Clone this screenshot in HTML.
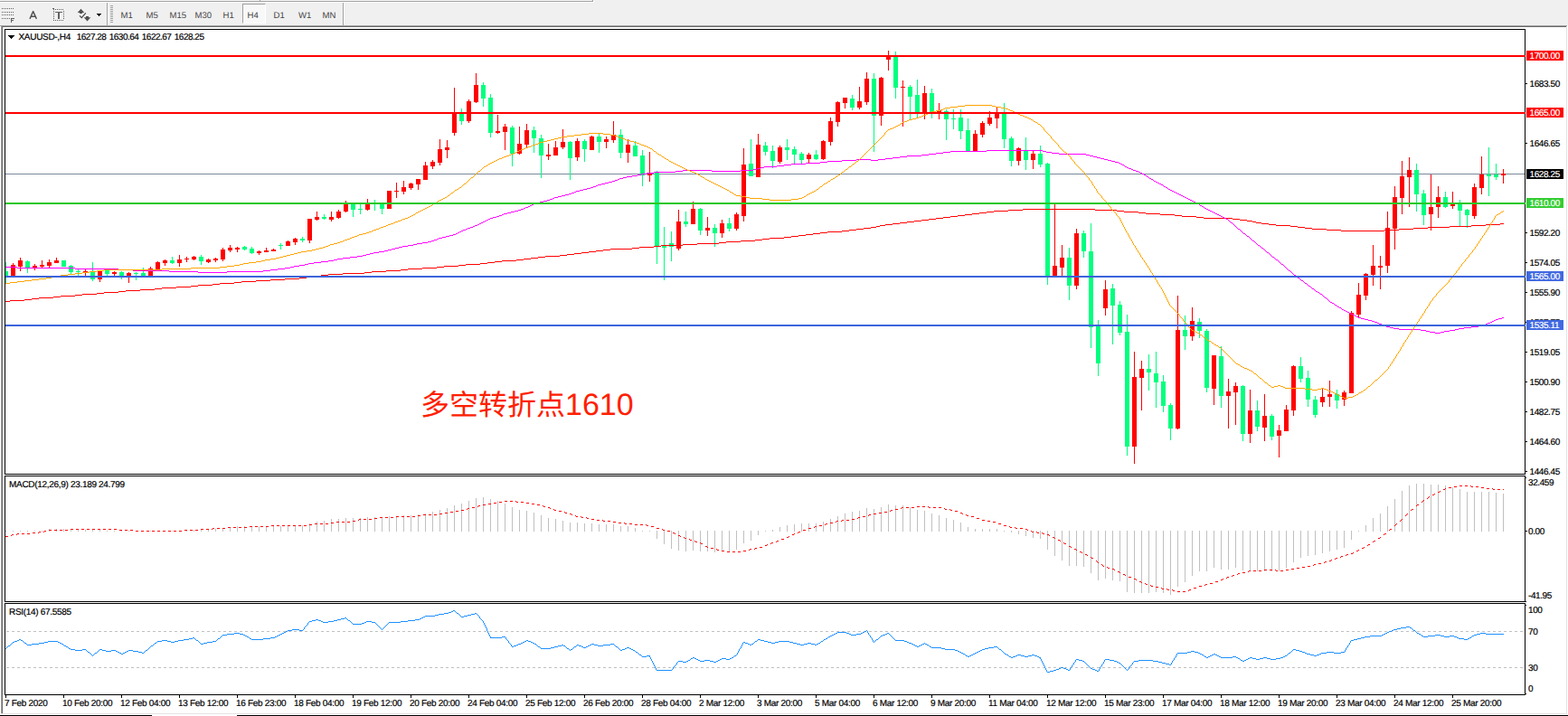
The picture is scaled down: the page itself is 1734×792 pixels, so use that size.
<!DOCTYPE html>
<html><head><meta charset="utf-8"><title>XAUUSD-,H4</title>
<style>
html,body{margin:0;padding:0}
body{width:1734px;height:792px;background:#f0f0f0;position:relative;overflow:hidden;font-family:"Liberation Sans",sans-serif;font-size:10px;letter-spacing:-0.31px;color:#000;text-rendering:geometricPrecision;-webkit-text-stroke:0.2px #000}
div{position:absolute;box-sizing:border-box}
.t{white-space:nowrap;line-height:11px;height:11px}
.pane{border:1px solid #000;background:#fff}
.lb{-webkit-text-stroke:0.2px #fff;left:1688px;width:41px;height:11px;color:#fff;padding-left:3.500px;line-height:13px;white-space:nowrap;letter-spacing:-0.41px}
.ax{left:1691.500px;letter-spacing:-0.41px}
.ax2{left:1690px;letter-spacing:-0.41px}
.tb{-webkit-text-stroke:0;color:#454545;opacity:0.99;top:12px;font-size:9.6px;letter-spacing:0;line-height:11px;height:11px;white-space:nowrap}
svg{position:absolute;left:0;top:0}
</style></head><body>

<div style="left:0;top:0;width:655px;height:1px;background:#f8f8f8"></div><div style="left:655px;top:0;width:1px;height:2px;background:#a0a0a0"></div><div style="left:656px;top:0;width:1px;height:3px;background:#fff"></div>
<div style="left:0;top:1px;width:656px;height:1px;background:#a0a0a0"></div>
<div style="left:0;top:2px;width:657px;height:1px;background:#fff"></div>
<div style="left:287px;top:0;width:1px;height:1px;background:#a0a0a0"></div><div style="left:288px;top:0;width:1px;height:1px;background:#fff"></div>
<div style="left:118px;top:3px;width:1px;height:25px;background:#a0a0a0"></div><div style="left:119px;top:3px;width:1px;height:25px;background:#fff"></div>
<div style="left:379px;top:3px;width:1px;height:25px;background:#a0a0a0"></div><div style="left:380px;top:3px;width:1px;height:25px;background:#fff"></div>
<div style="left:122px;top:6px;width:3px;height:20px;background:repeating-linear-gradient(to bottom,#a0a0a0 0,#a0a0a0 1px,transparent 1px,transparent 2px)"></div>
<div style="left:268px;top:4px;width:26px;height:22px;background:#f8f8f8;border-top:1px solid #a0a0a0;border-left:1px solid #a0a0a0;border-right:1px solid #fff;border-bottom:1px solid #fff"></div>
<div class="tb" style="left:133.5px">M1</div>
<div class="tb" style="left:161.5px">M5</div>
<div class="tb" style="left:187.5px">M15</div>
<div class="tb" style="left:215.5px">M30</div>
<div class="tb" style="left:246.5px">H1</div>
<div class="tb" style="left:273.5px">H4</div>
<div class="tb" style="left:302.5px">D1</div>
<div class="tb" style="left:330px">W1</div>
<div class="tb" style="left:356.5px">MN</div>
<svg width="120" height="30" viewBox="0 0 120 30" shape-rendering="crispEdges">
<g fill="#606060">
<path d="M2 9h1v1h-1zM4 9h1v1h-1zM6 9h1v1h-1zM8 9h1v1h-1zM10 9h1v1h-1zM12 9h1v1h-1zM14 9h1v1h-1zM2 13h1v1h-1zM4 13h1v1h-1zM6 13h1v1h-1zM8 13h1v1h-1zM10 13h1v1h-1zM12 13h1v1h-1zM14 13h1v1h-1zM2 16h1v1h-1zM4 16h1v1h-1zM6 16h1v1h-1zM8 16h1v1h-1zM10 16h1v1h-1zM12 16h1v1h-1zM14 16h1v1h-1zM2 20h1v1h-1zM4 20h1v1h-1zM6 20h1v1h-1zM8 20h1v1h-1zM10 20h1v1h-1z"/>
<path d="M12 20h4v1h-3v1h2v1h-2v2h-1z"/>
<path d="M59 10h1v1h-1zM61 10h1v1h-1zM63 10h1v1h-1zM65 10h1v1h-1zM67 10h1v1h-1zM69 10h1v1h-1zM59 12h1v1h-1zM59 14h1v1h-1zM59 16h1v1h-1zM59 18h1v1h-1zM59 20h1v1h-1zM59 22h1v1h-1zM61 22h1v1h-1zM63 22h1v1h-1zM65 22h1v1h-1zM67 22h1v1h-1zM69 22h1v1h-1zM70 12h1v1h-1zM70 14h1v1h-1zM70 16h1v1h-1zM70 18h1v1h-1zM70 20h1v1h-1zM58 9h2v1h-2z"/>
<path d="M61 13h8v1h-8zM64 14h2v7h-2z"/>
<path d="M107 15h5v1h-5zM108 16h3v1h-3zM109 17h1v1h-1z" fill="#000"/>
</g>
<g shape-rendering="auto" fill="#505050">
<path d="M33 20.900L36.650 12.600L40.400 20.900M34.300 18.200H39.100" fill="none" stroke="#505050" stroke-width="1.4" stroke-linejoin="round"/>
<path d="M89.500 9.700L93.300 13.900H91V15H88V13.900H85.700z"/>
<path d="M95 18H98V19.200H100.300L96.500 23.400L92.700 19.200H95z"/>
<path d="M88 17.300L90.300 19.600L94.800 14.300" fill="none" stroke="#404040" stroke-width="1.1"/>
</g>
</svg>
<div style="left:0;top:28px;width:1734px;height:1px;background:#a0a0a0"></div>
<div style="left:1px;top:29px;width:1px;height:760px;background:#a0a0a0"></div>
<div style="left:2px;top:29px;width:1730px;height:1px;background:#696969"></div>
<div style="left:2px;top:29px;width:1px;height:760px;background:#696969"></div>
<div style="left:3px;top:30px;width:1729px;height:759px;background:#fff"></div>
<div style="left:0;top:29px;width:1px;height:761px;background:#fff"></div>
<div style="left:1732px;top:29px;width:1px;height:761px;background:#e3e3e3"></div>
<div style="left:1733px;top:28px;width:1px;height:762px;background:#fff"></div>
<div style="left:1px;top:789px;width:1732px;height:1px;background:#e3e3e3"></div>
<div style="left:0;top:790px;width:1734px;height:1px;background:#fff"></div>
<div style="left:0;top:791px;width:168px;height:1px;background:#000"></div>
<div style="left:168px;top:791px;width:94px;height:1px;background:#fff"></div>
<div style="left:262px;top:791px;width:1472px;height:1px;background:#000"></div>
<div class="pane" style="left:5px;top:32px;width:1682px;height:493px"></div>
<div class="pane" style="left:5px;top:526px;width:1682px;height:140px"></div>
<div class="pane" style="left:5px;top:667px;width:1682px;height:102px"></div>
<svg width="1734" height="792" viewBox="0 0 1734 792" shape-rendering="crispEdges"><rect x="6" y="192" width="1680" height="1" fill="#7a8a9c"/><path d="M6 290h1v24h-1zM6 300h3v6h-3zM30 288h1v14h-1zM28 289h5v7h-5zM70 288h1v7h-1zM68 288h5v7h-5zM78 293h1v10h-1zM76 294h5v7h-5zM86 297h1v8h-1zM84 300h5v1h-5zM102 290h1v21h-1zM100 301h5v8h-5zM118 298h1v7h-1zM116 299h5v4h-5zM134 300h1v9h-1zM132 301h5v4h-5zM150 301h1v9h-1zM148 302h5v1h-5zM158 296h1v9h-1zM156 302h5v3h-5zM190 284h1v8h-1zM188 288h5v3h-5zM222 282h1v11h-1zM220 284h5v5h-5zM270 272h1v5h-1zM268 273h5v3h-5zM278 273h1v8h-1zM276 275h5v5h-5zM310 269h1v7h-1zM308 271h5v1h-5zM334 262h1v6h-1zM332 264h5v2h-5zM358 237h1v6h-1zM356 240h5v2h-5zM390 224h1v16h-1zM388 224h5v8h-5zM398 224h1v13h-1zM396 231h5v1h-5zM414 221h1v12h-1zM412 224h5v1h-5zM422 224h1v13h-1zM420 224h5v7h-5zM510 120h1v18h-1zM508 124h5v10h-5zM534 91h1v27h-1zM532 94h5v15h-5zM542 104h1v48h-1zM540 108h5v39h-5zM566 139h1v45h-1zM564 141h5v29h-5zM590 140h1v29h-1zM588 144h5v9h-5zM598 149h1v48h-1zM596 153h5v19h-5zM630 156h1v43h-1zM628 157h5v18h-5zM646 154h1v25h-1zM644 156h5v9h-5zM662 148h1v21h-1zM660 151h5v6h-5zM686 143h1v32h-1zM684 149h5v20h-5zM702 156h1v17h-1zM700 161h5v12h-5zM710 166h1v40h-1zM708 172h5v22h-5zM726 189h1v103h-1zM724 191h5v81h-5zM734 251h1v59h-1zM732 272h5v2h-5zM742 256h1v33h-1zM740 269h5v4h-5zM758 234h1v17h-1zM756 245h5v3h-5zM774 230h1v30h-1zM772 231h5v24h-5zM790 248h1v25h-1zM788 252h5v6h-5zM806 241h1v15h-1zM804 247h5v6h-5zM830 154h1v41h-1zM828 181h5v14h-5zM846 157h1v15h-1zM844 161h5v7h-5zM854 161h1v25h-1zM852 167h5v11h-5zM870 154h1v23h-1zM868 163h5v3h-5zM878 162h1v20h-1zM876 165h5v6h-5zM886 168h1v13h-1zM884 170h5v7h-5zM902 166h1v11h-1zM900 171h5v5h-5zM942 105h1v17h-1zM940 109h5v10h-5zM966 81h1v87h-1zM964 87h5v41h-5zM990 57h1v52h-1zM988 62h5v35h-5zM1006 94h1v38h-1zM1004 96h5v11h-5zM1014 88h1v42h-1zM1012 105h5v19h-5zM1030 98h1v33h-1zM1028 103h5v21h-5zM1046 121h1v34h-1zM1044 123h5v9h-5zM1054 121h1v22h-1zM1052 131h5v1h-5zM1062 121h1v33h-1zM1060 130h5v15h-5zM1070 131h1v36h-1zM1068 144h5v23h-5zM1110 114h1v50h-1zM1108 126h5v28h-5zM1118 151h1v33h-1zM1116 153h5v25h-5zM1134 152h1v36h-1zM1132 167h5v10h-5zM1150 161h1v24h-1zM1148 170h5v12h-5zM1158 180h1v135h-1zM1156 181h5v124h-5zM1182 274h1v58h-1zM1180 285h5v31h-5zM1198 255h1v30h-1zM1196 258h5v20h-5zM1206 247h1v138h-1zM1204 278h5v84h-5zM1214 354h1v62h-1zM1212 359h5v43h-5zM1230 314h1v67h-1zM1228 319h5v19h-5zM1238 333h1v38h-1zM1236 337h5v31h-5zM1246 348h1v156h-1zM1244 367h5v127h-5zM1270 392h1v40h-1zM1268 408h5v4h-5zM1278 389h1v62h-1zM1276 413h5v10h-5zM1286 415h1v41h-1zM1284 422h5v27h-5zM1294 446h1v41h-1zM1292 448h5v26h-5zM1310 349h1v38h-1zM1308 365h5v7h-5zM1326 352h1v22h-1zM1324 356h5v10h-5zM1334 364h1v70h-1zM1332 366h5v63h-5zM1350 383h1v68h-1zM1348 394h5v44h-5zM1374 426h1v62h-1zM1372 427h5v53h-5zM1390 443h1v34h-1zM1388 454h5v18h-5zM1406 458h1v29h-1zM1404 460h5v23h-5zM1438 395h1v28h-1zM1436 405h5v14h-5zM1446 410h1v40h-1zM1444 418h5v24h-5zM1454 438h1v24h-1zM1452 442h5v17h-5zM1478 431h1v21h-1zM1476 436h5v7h-5zM1566 181h1v53h-1zM1564 188h5v27h-5zM1574 210h1v39h-1zM1572 214h5v24h-5zM1598 212h1v18h-1zM1596 218h5v11h-5zM1614 221h1v29h-1zM1612 226h5v7h-5zM1622 231h1v21h-1zM1620 232h5v6h-5zM1646 163h1v54h-1zM1644 193h5v2h-5zM1654 181h1v18h-1zM1652 193h5v3h-5z" fill="#00ff7f"/><path d="M14 291h1v14h-1zM12 293h5v12h-5zM22 285h1v15h-1zM20 288h5v7h-5zM38 292h1v7h-1zM36 294h5v2h-5zM46 288h1v8h-1zM44 293h5v2h-5zM54 287h1v9h-1zM52 290h5v4h-5zM62 285h1v6h-1zM60 288h5v3h-5zM94 297h1v8h-1zM92 300h5v2h-5zM110 300h1v12h-1zM108 300h5v9h-5zM126 300h1v5h-1zM124 301h5v2h-5zM142 301h1v12h-1zM140 302h5v3h-5zM166 295h1v10h-1zM164 297h5v8h-5zM174 289h1v9h-1zM172 290h5v8h-5zM182 287h1v7h-1zM180 288h5v3h-5zM198 282h1v13h-1zM196 287h5v4h-5zM206 284h1v6h-1zM204 286h5v1h-5zM214 283h1v5h-1zM212 284h5v3h-5zM230 286h1v5h-1zM228 287h5v3h-5zM238 285h1v5h-1zM236 286h5v2h-5zM246 274h1v15h-1zM244 276h5v11h-5zM254 271h1v8h-1zM252 274h5v3h-5zM262 273h1v6h-1zM260 274h5v2h-5zM286 277h1v5h-1zM284 278h5v2h-5zM294 274h1v5h-1zM292 277h5v2h-5zM302 275h1v3h-1zM300 276h5v2h-5zM318 266h1v6h-1zM316 267h5v5h-5zM326 263h1v8h-1zM324 264h5v4h-5zM342 242h1v27h-1zM340 242h5v24h-5zM350 234h1v10h-1zM348 240h5v3h-5zM366 234h1v11h-1zM364 240h5v3h-5zM374 232h1v10h-1zM372 234h5v7h-5zM382 222h1v13h-1zM380 224h5v10h-5zM406 220h1v13h-1zM404 224h5v8h-5zM430 211h1v20h-1zM428 211h5v20h-5zM438 202h1v17h-1zM436 211h5v1h-5zM446 200h1v15h-1zM444 207h5v5h-5zM454 202h1v8h-1zM452 203h5v5h-5zM462 198h1v12h-1zM460 198h5v6h-5zM470 179h1v20h-1zM468 183h5v16h-5zM478 177h1v10h-1zM476 179h5v5h-5zM486 154h1v29h-1zM484 165h5v15h-5zM494 155h1v20h-1zM492 163h5v3h-5zM502 97h1v53h-1zM500 124h5v23h-5zM518 110h1v26h-1zM516 112h5v22h-5zM526 81h1v33h-1zM524 94h5v19h-5zM550 127h1v21h-1zM548 145h5v2h-5zM558 137h1v29h-1zM556 140h5v6h-5zM574 140h1v31h-1zM572 159h5v11h-5zM582 137h1v26h-1zM580 144h5v16h-5zM606 159h1v18h-1zM604 171h5v2h-5zM614 156h1v16h-1zM612 163h5v9h-5zM622 143h1v22h-1zM620 157h5v6h-5zM638 153h1v25h-1zM636 156h5v18h-5zM654 150h1v16h-1zM652 151h5v15h-5zM670 151h1v13h-1zM668 154h5v3h-5zM678 134h1v24h-1zM676 149h5v6h-5zM694 154h1v26h-1zM692 160h5v9h-5zM718 168h1v33h-1zM716 191h5v3h-5zM750 232h1v45h-1zM748 245h5v30h-5zM766 223h1v25h-1zM764 231h5v17h-5zM782 240h1v21h-1zM780 252h5v3h-5zM798 243h1v20h-1zM796 247h5v11h-5zM814 235h1v20h-1zM812 237h5v16h-5zM822 164h1v81h-1zM820 182h5v57h-5zM838 148h1v48h-1zM836 160h5v36h-5zM862 161h1v20h-1zM860 163h5v16h-5zM894 169h1v11h-1zM892 171h5v5h-5zM910 155h1v22h-1zM908 156h5v20h-5zM918 130h1v31h-1zM916 134h5v23h-5zM926 112h1v28h-1zM924 113h5v22h-5zM934 108h1v12h-1zM932 108h5v6h-5zM950 96h1v25h-1zM948 112h5v7h-5zM958 80h1v36h-1zM956 87h5v26h-5zM974 85h1v54h-1zM972 86h5v42h-5zM982 56h1v22h-1zM980 61h5v5h-5zM998 89h1v51h-1zM996 96h5v1h-5zM1022 95h1v37h-1zM1020 103h5v23h-5zM1038 114h1v18h-1zM1036 122h5v4h-5zM1078 144h1v23h-1zM1076 148h5v19h-5zM1086 134h1v18h-1zM1084 136h5v13h-5zM1094 123h1v16h-1zM1092 130h5v7h-5zM1102 118h1v24h-1zM1100 124h5v7h-5zM1126 163h1v20h-1zM1124 164h5v14h-5zM1142 167h1v20h-1zM1140 170h5v7h-5zM1166 226h1v79h-1zM1164 294h5v11h-5zM1174 271h1v34h-1zM1172 285h5v11h-5zM1190 253h1v67h-1zM1188 258h5v58h-5zM1222 310h1v39h-1zM1220 320h5v21h-5zM1254 389h1v124h-1zM1252 417h5v77h-5zM1262 399h1v55h-1zM1260 408h5v10h-5zM1302 327h1v148h-1zM1300 365h5v109h-5zM1318 340h1v37h-1zM1316 355h5v17h-5zM1342 393h1v55h-1zM1340 393h5v37h-5zM1358 419h1v55h-1zM1356 433h5v5h-5zM1366 423h1v47h-1zM1364 427h5v7h-5zM1382 431h1v59h-1zM1380 454h5v26h-5zM1398 436h1v52h-1zM1396 460h5v13h-5zM1414 470h1v36h-1zM1412 476h5v6h-5zM1422 448h1v29h-1zM1420 453h5v24h-5zM1430 404h1v56h-1zM1428 405h5v49h-5zM1462 429h1v21h-1zM1460 439h5v6h-5zM1470 421h1v29h-1zM1468 436h5v3h-5zM1486 432h1v17h-1zM1484 434h5v8h-5zM1494 344h1v91h-1zM1492 346h5v89h-5zM1502 313h1v38h-1zM1500 326h5v22h-5zM1510 302h1v30h-1zM1508 303h5v24h-5zM1518 271h1v45h-1zM1516 294h5v10h-5zM1526 283h1v37h-1zM1524 294h5v2h-5zM1534 234h1v68h-1zM1532 252h5v42h-5zM1542 206h1v70h-1zM1540 218h5v35h-5zM1550 178h1v59h-1zM1548 195h5v24h-5zM1558 174h1v55h-1zM1556 188h5v8h-5zM1582 193h1v62h-1zM1580 229h5v8h-5zM1590 206h1v35h-1zM1588 218h5v11h-5zM1606 212h1v19h-1zM1604 226h5v2h-5zM1630 203h1v39h-1zM1628 207h5v32h-5zM1638 173h1v42h-1zM1636 193h5v15h-5zM1662 187h1v16h-1zM1660 192h5v2h-5z" fill="#ff0000"/><path d="M851 263h16v1h-16zM947 253h8v1h-8zM1451 253h16v1h-16zM1547 253h16v1h-16zM819 266h16v1h-16zM771 269h24v1h-24zM579 286h8v1h-8zM931 255h8v1h-8zM1483 255h48v1h-48zM603 283h16v1h-16zM1043 240h8v1h-8zM1323 240h8v1h-8zM1091 234h8v1h-8zM1243 234h16v1h-16zM379 302h24v1h-24zM491 294h16v1h-16zM955 252h8v1h-8zM1443 252h8v1h-8zM1563 252h16v1h-16zM915 256h16v1h-16zM451 297h16v1h-16zM1115 232h16v1h-16zM1211 232h24v1h-24zM411 300h16v1h-16zM1131 231h80v1h-80zM969 250h4v1h-4zM1427 250h8v1h-8zM1603 250h24v1h-24zM331 307h8v1h-8zM483 295h8v1h-8zM283 310h16v1h-16zM875 261h8v1h-8zM995 246h8v1h-8zM1389 246h6v1h-6zM243 313h16v1h-16zM979 248h8v1h-8zM1403 248h8v1h-8zM1643 248h16v1h-16zM1067 237h8v1h-8zM1283 237h16v1h-16zM1035 241h8v1h-8zM1331 241h32v1h-32zM315 308h16v1h-16zM115 323h16v1h-16zM83 326h8v1h-8zM43 329h16v1h-16zM1059 238h8v1h-8zM1299 238h8v1h-8zM67 327h16v1h-16zM587 285h8v1h-8zM1027 242h8v1h-8zM1363 242h8v1h-8zM179 318h16v1h-16zM939 254h8v1h-8zM1467 254h16v1h-16zM1531 254h16v1h-16zM139 321h16v1h-16zM171 319h8v1h-8zM731 271h24v1h-24zM259 312h8v1h-8zM11 332h16v1h-16zM643 279h8v1h-8zM555 288h16v1h-16zM1019 243h8v1h-8zM1371 243h8v1h-8zM467 296h16v1h-16zM667 276h8v1h-8zM347 305h8v1h-8zM907 257h8v1h-8zM699 274h8v1h-8zM1083 235h8v1h-8zM1259 235h8v1h-8zM219 315h16v1h-16zM539 290h8v1h-8zM659 277h8v1h-8zM427 299h16v1h-16zM987 247h8v1h-8zM1395 247h8v1h-8zM1659 247h4v1h-4zM963 251h6v1h-6zM1435 251h8v1h-8zM1579 251h24v1h-24zM1003 245h8v1h-8zM1385 245h4v1h-4zM973 249h6v1h-6zM1411 249h16v1h-16zM1627 249h16v1h-16zM507 293h8v1h-8zM707 273h16v1h-16zM1075 236h8v1h-8zM1267 236h16v1h-16zM155 320h16v1h-16zM299 309h16v1h-16zM91 325h16v1h-16zM1099 233h16v1h-16zM1235 233h8v1h-8zM363 303h16v1h-16zM755 270h16v1h-16zM1051 239h8v1h-8zM1307 239h16v1h-16zM619 282h8v1h-8zM883 260h8v1h-8zM571 287h8v1h-8zM403 301h8v1h-8zM795 268h8v1h-8zM195 317h16v1h-16zM1011 244h8v1h-8zM1379 244h6v1h-6zM595 284h8v1h-8zM835 265h8v1h-8zM891 259h8v1h-8zM651 278h8v1h-8zM675 275h24v1h-24zM59 328h8v1h-8zM339 306h8v1h-8zM803 267h16v1h-16zM267 311h16v1h-16zM27 331h8v1h-8zM515 292h16v1h-16zM35 330h8v1h-8zM235 314h8v1h-8zM627 281h8v1h-8zM443 298h8v1h-8zM547 289h8v1h-8zM723 272h8v1h-8zM843 264h8v1h-8zM211 316h8v1h-8zM131 322h8v1h-8zM6 333h5v1h-5zM635 280h8v1h-8zM899 258h8v1h-8zM107 324h8v1h-8zM531 291h8v1h-8zM355 304h8v1h-8zM867 262h8v1h-8z" fill="#ff0000"/><path d="M19 296h64v1h-64zM315 296h6v1h-6zM540 242h2v1h-2zM1356 242h2v1h-2zM931 177h16v1h-16zM963 177h8v1h-8zM1225 177h4v1h-4zM1091 166h62v1h-62zM755 188h32v1h-32zM819 188h14v1h-14zM1253 188h3v1h-3zM747 189h8v1h-8zM787 189h32v1h-32zM1256 189h3v1h-3zM1533 361h4v1h-4zM1627 361h8v1h-8zM1003 172h16v1h-16zM1205 172h4v1h-4zM1541 363h6v1h-6zM1613 363h6v1h-6zM1027 170h8v1h-8zM1171 170h30v1h-30zM413 279h6v1h-6zM1401 279h2v1h-2zM837 186h4v1h-4zM1248 186h3v1h-3zM147 299h40v1h-40zM291 299h8v1h-8zM1425 299h2v1h-2zM187 300h32v1h-32zM251 300h40v1h-40zM1520 356h3v1h-3zM1648 356h2v1h-2zM723 190h24v1h-24zM1259 190h2v1h-2zM601 222h4v1h-4zM1318 222h2v1h-2zM649 208h4v1h-4zM1035 169h8v1h-8zM1163 169h8v1h-8zM597 223h4v1h-4zM1320 223h2v1h-2zM1547 364h24v1h-24zM1609 364h4v1h-4zM979 175h8v1h-8zM1217 175h4v1h-4zM586 227h2v1h-2zM1327 227h2v1h-2zM987 174h8v1h-8zM1213 174h4v1h-4zM581 229h3v1h-3zM1051 167h40v1h-40zM1153 167h4v1h-4zM637 211h4v1h-4zM1296 211h2v1h-2zM83 297h48v1h-48zM307 297h8v1h-8zM131 298h16v1h-16zM299 298h8v1h-8zM1531 360h2v1h-2zM1635 360h5v1h-5zM373 286h6v1h-6zM477 266h3v1h-3zM1385 266h2v1h-2zM433 275h4v1h-4zM501 259h3v1h-3zM1523 357h2v1h-2zM1645 357h3v1h-3zM845 184h14v1h-14zM1244 184h2v1h-2zM875 181h16v1h-16zM1239 181h2v1h-2zM489 262h4v1h-4zM379 285h8v1h-8zM1492 346h2v1h-2zM1484 342h2v1h-2zM833 187h4v1h-4zM1251 187h2v1h-2zM451 271h6v1h-6zM1391 271h2v1h-2zM1043 168h8v1h-8zM1157 168h6v1h-6zM1486 343h2v1h-2zM1447 316h2v1h-2zM573 232h3v1h-3zM1336 232h2v1h-2zM629 214h3v1h-3zM1302 214h2v1h-2zM437 274h4v1h-4zM1395 274h2v1h-2zM891 180h16v1h-16zM1237 180h2v1h-2zM485 263h4v1h-4zM693 195h6v1h-6zM1268 195h2v1h-2zM445 272h6v1h-6zM405 281h4v1h-4zM557 236h4v1h-4zM1344 236h2v1h-2zM561 235h4v1h-4zM1342 235h2v1h-2zM497 260h4v1h-4zM593 224h4v1h-4zM1322 224h2v1h-2zM584 228h2v1h-2zM1329 228h2v1h-2zM683 198h2v1h-2zM1273 198h2v1h-2zM461 269h6v1h-6zM6 295h13v1h-13zM321 295h4v1h-4zM995 173h8v1h-8zM1209 173h4v1h-4zM617 217h4v1h-4zM1308 217h2v1h-2zM1505 352h4v1h-4zM1657 352h4v1h-4zM709 192h6v1h-6zM1263 192h2v1h-2zM419 278h6v1h-6zM549 239h3v1h-3zM1350 239h2v1h-2zM341 291h6v1h-6zM1473 335h2v1h-2zM1577 366h4v1h-4zM1597 366h6v1h-6zM1019 171h8v1h-8zM1201 171h4v1h-4zM473 267h4v1h-4zM1455 322h2v1h-2zM401 282h4v1h-4zM467 268h6v1h-6zM331 293h6v1h-6zM1525 358h3v1h-3zM1643 358h2v1h-2zM685 197h4v1h-4zM1271 197h2v1h-2zM590 225h3v1h-3zM1324 225h2v1h-2zM219 301h32v1h-32zM1517 355h3v1h-3zM1650 355h2v1h-2zM605 221h3v1h-3zM1316 221h2v1h-2zM552 238h3v1h-3zM1348 238h2v1h-2zM613 218h4v1h-4zM1310 218h2v1h-2zM673 201h4v1h-4zM1278 201h2v1h-2zM947 176h16v1h-16zM971 176h8v1h-8zM1221 176h4v1h-4zM907 179h8v1h-8zM1233 179h4v1h-4zM510 255h2v1h-2zM661 204h4v1h-4zM1284 204h2v1h-2zM536 244h2v1h-2zM483 264h2v1h-2zM480 265h3v1h-3zM915 178h16v1h-16zM1229 178h4v1h-4zM653 207h3v1h-3zM1289 207h2v1h-2zM369 287h4v1h-4zM1411 287h2v1h-2zM1465 329h2v1h-2zM493 261h4v1h-4zM1379 261h2v1h-2zM576 231h3v1h-3zM1334 231h2v1h-2zM528 248h2v1h-2zM1513 354h4v1h-4zM1652 354h2v1h-2zM1460 325h2v1h-2zM1471 334h2v1h-2zM1502 351h3v1h-3zM1661 351h2v1h-2zM859 183h8v1h-8zM504 258h2v1h-2zM1375 258h2v1h-2zM608 220h3v1h-3zM1314 220h2v1h-2zM515 253h2v1h-2zM1369 253h2v1h-2zM699 194h6v1h-6zM715 191h8v1h-8zM1261 191h2v1h-2zM641 210h4v1h-4zM1294 210h2v1h-2zM1488 344h2v1h-2zM395 283h6v1h-6zM1537 362h4v1h-4zM1619 362h8v1h-8zM387 284h8v1h-8zM1407 284h2v1h-2zM355 289h8v1h-8zM1476 337h2v1h-2zM565 234h4v1h-4zM1340 234h2v1h-2zM867 182h8v1h-8zM1241 182h2v1h-2zM625 215h4v1h-4zM1304 215h2v1h-2zM555 237h2v1h-2zM1346 237h2v1h-2zM525 249h3v1h-3zM611 219h2v1h-2zM1312 219h2v1h-2zM1528 359h3v1h-3zM1640 359h3v1h-3zM705 193h4v1h-4zM1265 193h2v1h-2zM409 280h4v1h-4zM569 233h4v1h-4zM1338 233h2v1h-2zM1581 367h6v1h-6zM1593 367h4v1h-4zM1571 365h6v1h-6zM1603 365h6v1h-6zM545 240h4v1h-4zM1352 240h2v1h-2zM645 209h4v1h-4zM1292 209h2v1h-2zM669 202h4v1h-4zM1280 202h2v1h-2zM1587 368h6v1h-6zM517 252h3v1h-3zM538 243h2v1h-2zM635 212h2v1h-2zM1298 212h2v1h-2zM337 292h4v1h-4zM1417 292h2v1h-2zM508 256h2v1h-2zM841 185h4v1h-4zM1246 185h2v1h-2zM1509 353h4v1h-4zM1654 353h3v1h-3zM579 230h2v1h-2zM1332 230h2v1h-2zM363 288h6v1h-6zM441 273h4v1h-4zM506 257h2v1h-2zM429 276h4v1h-4zM621 216h4v1h-4zM1306 216h2v1h-2zM457 270h4v1h-4zM325 294h6v1h-6zM425 277h4v1h-4zM659 205h2v1h-2zM512 254h3v1h-3zM1479 339h2v1h-2zM542 241h3v1h-3zM1354 241h2v1h-2zM588 226h2v1h-2zM347 290h8v1h-8zM534 245h2v1h-2zM632 213h3v1h-3zM1300 213h2v1h-2zM665 203h4v1h-4zM1282 203h2v1h-2zM677 200h3v1h-3zM1276 200h2v1h-2zM1431 304h2v1h-2zM1439 310h2v1h-2zM1435 307h2v1h-2zM656 206h3v1h-3zM1287 206h2v1h-2zM532 246h2v1h-2zM1361 246h2v1h-2zM1500 350h2v1h-2zM1494 347h2v1h-2zM1481 340h2v1h-2zM1443 313h2v1h-2zM523 250h2v1h-2zM689 196h4v1h-4zM1457 323h2v1h-2zM1451 319h2v1h-2zM680 199h3v1h-3zM520 251h3v1h-3zM1496 348h2v1h-2zM1498 349h2v1h-2zM1490 345h2v1h-2zM530 247h2v1h-2zM1422 296h1v1h-1zM1438 309h1v1h-1zM1427 300h1v1h-1zM1291 208h1v1h-1zM1331 229h1v1h-1zM1423 297h1v1h-1zM1424 298h1v1h-1zM1410 286h1v1h-1zM1453 320h1v1h-1zM1434 306h1v1h-1zM1397 275h1v1h-1zM1377 259h1v1h-1zM1381 262h1v1h-1zM1409 285h1v1h-1zM1382 263h1v1h-1zM1393 272h1v1h-1zM1404 281h1v1h-1zM1378 260h1v1h-1zM1389 269h1v1h-1zM1421 295h1v1h-1zM1400 278h1v1h-1zM1416 291h1v1h-1zM1387 267h1v1h-1zM1405 282h1v1h-1zM1388 268h1v1h-1zM1419 293h1v1h-1zM1428 301h1v1h-1zM1469 332h1v1h-1zM1372 255h1v1h-1zM1450 318h1v1h-1zM1359 244h1v1h-1zM1383 264h1v1h-1zM1384 265h1v1h-1zM1446 315h1v1h-1zM1364 248h1v1h-1zM1243 183h1v1h-1zM1267 194h1v1h-1zM1406 283h1v1h-1zM1414 289h1v1h-1zM1365 249h1v1h-1zM1403 280h1v1h-1zM1368 252h1v1h-1zM1358 243h1v1h-1zM1373 256h1v1h-1zM1413 288h1v1h-1zM1394 273h1v1h-1zM1374 257h1v1h-1zM1398 276h1v1h-1zM1390 270h1v1h-1zM1420 294h1v1h-1zM1399 277h1v1h-1zM1286 205h1v1h-1zM1371 254h1v1h-1zM1326 226h1v1h-1zM1415 290h1v1h-1zM1360 245h1v1h-1zM1437 308h1v1h-1zM1433 305h1v1h-1zM1449 317h1v1h-1zM1430 303h1v1h-1zM1366 250h1v1h-1zM1270 196h1v1h-1zM1275 199h1v1h-1zM1442 312h1v1h-1zM1367 251h1v1h-1zM1429 302h1v1h-1zM1462 326h1v1h-1zM1454 321h1v1h-1zM1468 331h1v1h-1zM1463 327h1v1h-1zM1464 328h1v1h-1zM1478 338h1v1h-1zM1459 324h1v1h-1zM1363 247h1v1h-1zM1483 341h1v1h-1zM1445 314h1v1h-1zM1475 336h1v1h-1zM1470 333h1v1h-1zM1441 311h1v1h-1zM1467 330h1v1h-1z" fill="#ff00ff"/><path d="M437 245h3v1h-3zM1067 116h30v1h-30zM1045 119h6v1h-6zM1107 119h5v1h-5zM11 312h8v1h-8zM325 280h4v1h-4zM1337 377h2v1h-2zM75 303h8v1h-8zM472 229h2v1h-2zM546 178h2v1h-2zM740 178h2v1h-2zM947 178h2v1h-2zM617 152h4v1h-4zM685 152h3v1h-3zM486 221h2v1h-2zM851 221h24v1h-24zM1443 430h8v1h-8zM1457 430h4v1h-4zM1464 430h3v1h-3zM6 313h5v1h-5zM115 298h64v1h-64zM651 147h16v1h-16zM635 149h8v1h-8zM675 149h5v1h-5zM468 231h2v1h-2zM542 180h2v1h-2zM744 180h2v1h-2zM1327 370h2v1h-2zM643 148h8v1h-8zM667 148h8v1h-8zM1035 122h5v1h-5zM1117 122h3v1h-3zM627 150h8v1h-8zM680 150h3v1h-3zM513 203h2v1h-2zM790 203h2v1h-2zM911 203h2v1h-2zM565 170h3v1h-3zM727 170h2v1h-2zM490 219h2v1h-2zM829 219h14v1h-14zM883 219h4v1h-4zM1059 117h8v1h-8zM1097 117h4v1h-4zM27 310h8v1h-8zM540 181h2v1h-2zM746 181h2v1h-2zM943 181h2v1h-2zM548 177h2v1h-2zM993 138h2v1h-2zM365 270h4v1h-4zM345 276h4v1h-4zM1409 427h4v1h-4zM1416 427h3v1h-3zM1513 427h2v1h-2zM211 296h32v1h-32zM329 279h4v1h-4zM557 173h3v1h-3zM732 173h2v1h-2zM455 238h2v1h-2zM363 271h2v1h-2zM251 294h8v1h-8zM83 302h8v1h-8zM289 288h4v1h-4zM451 240h2v1h-2zM605 155h4v1h-4zM693 155h4v1h-4zM1340 379h2v1h-2zM521 196h2v1h-2zM777 196h2v1h-2zM581 163h3v1h-3zM717 163h2v1h-2zM317 282h4v1h-4zM544 179h2v1h-2zM742 179h2v1h-2zM613 153h4v1h-4zM688 153h3v1h-3zM275 290h8v1h-8zM408 256h3v1h-3zM758 187h2v1h-2zM935 187h2v1h-2zM782 199h2v1h-2zM440 244h3v1h-3zM1421 429h22v1h-22zM1461 429h3v1h-3zM563 171h2v1h-2zM729 171h2v1h-2zM1030 123h5v1h-5zM1120 123h2v1h-2zM339 277h6v1h-6zM595 158h2v1h-2zM704 158h3v1h-3zM794 205h2v1h-2zM397 259h4v1h-4zM460 235h2v1h-2zM35 309h8v1h-8zM293 287h6v1h-6zM503 210h2v1h-2zM804 210h2v1h-2zM984 142h3v1h-3zM1451 431h6v1h-6zM1467 431h2v1h-2zM1508 431h2v1h-2zM479 225h2v1h-2zM1016 129h3v1h-3zM1133 129h3v1h-3zM900 211h2v1h-2zM508 207h2v1h-2zM798 207h2v1h-2zM1335 376h2v1h-2zM812 215h2v1h-2zM892 215h2v1h-2zM457 237h2v1h-2zM1655 237h2v1h-2zM1009 131h4v1h-4zM1138 131h2v1h-2zM1005 132h4v1h-4zM1140 132h2v1h-2zM488 220h2v1h-2zM843 220h8v1h-8zM875 220h8v1h-8zM1019 128h2v1h-2zM1131 128h2v1h-2zM1028 124h2v1h-2zM1122 124h2v1h-2zM443 243h2v1h-2zM921 197h2v1h-2zM1000 134h3v1h-3zM1143 134h2v1h-2zM462 234h2v1h-2zM1660 234h2v1h-2zM1381 409h2v1h-2zM574 166h2v1h-2zM432 247h3v1h-3zM424 250h3v1h-3zM572 167h2v1h-2zM723 167h2v1h-2zM57 306h4v1h-4zM555 174h2v1h-2zM481 224h2v1h-2zM584 162h3v1h-3zM715 162h2v1h-2zM505 209h2v1h-2zM802 209h2v1h-2zM903 209h2v1h-2zM550 176h2v1h-2zM737 176h2v1h-2zM592 159h3v1h-3zM707 159h2v1h-2zM894 214h2v1h-2zM1379 408h2v1h-2zM748 182h2v1h-2zM1372 405h2v1h-2zM384 264h3v1h-3zM1331 373h2v1h-2zM535 184h2v1h-2zM752 184h2v1h-2zM939 184h2v1h-2zM1474 434h2v1h-2zM1503 434h2v1h-2zM552 175h3v1h-3zM735 175h2v1h-2zM61 305h6v1h-6zM772 193h2v1h-2zM927 193h2v1h-2zM464 233h2v1h-2zM1393 418h2v1h-2zM587 161h2v1h-2zM712 161h3v1h-3zM495 216h2v1h-2zM814 216h5v1h-5zM243 295h8v1h-8zM807 212h2v1h-2zM898 212h2v1h-2zM419 252h2v1h-2zM1345 382h2v1h-2zM1320 366h2v1h-2zM379 266h2v1h-2zM492 218h2v1h-2zM825 218h4v1h-4zM887 218h2v1h-2zM788 202h2v1h-2zM913 202h2v1h-2zM568 169h2v1h-2zM1406 428h3v1h-3zM1419 428h2v1h-2zM179 297h32v1h-32zM796 206h2v1h-2zM907 206h2v1h-2zM19 311h8v1h-8zM1026 125h2v1h-2zM1124 125h2v1h-2zM609 154h4v1h-4zM691 154h2v1h-2zM265 292h4v1h-4zM770 192h2v1h-2zM1148 137h2v1h-2zM299 286h6v1h-6zM349 275h4v1h-4zM597 157h4v1h-4zM701 157h3v1h-3zM283 289h6v1h-6zM982 143h2v1h-2zM353 274h4v1h-4zM601 156h4v1h-4zM697 156h4v1h-4zM1021 127h3v1h-3zM1128 127h3v1h-3zM107 299h8v1h-8zM313 283h4v1h-4zM1484 439h2v1h-2zM1491 439h5v1h-5zM1043 120h2v1h-2zM1112 120h3v1h-3zM560 172h3v1h-3zM1013 130h3v1h-3zM1136 130h2v1h-2zM387 263h2v1h-2zM373 268h3v1h-3zM43 308h8v1h-8zM369 269h4v1h-4zM775 195h2v1h-2zM924 195h2v1h-2zM1399 423h2v1h-2zM453 239h2v1h-2zM1478 436h2v1h-2zM1500 436h2v1h-2zM435 246h2v1h-2zM1657 236h2v1h-2zM1472 433h2v1h-2zM1505 433h2v1h-2zM416 253h3v1h-3zM429 248h3v1h-3zM411 255h2v1h-2zM1343 381h2v1h-2zM427 249h2v1h-2zM780 198h2v1h-2zM919 198h2v1h-2zM784 200h2v1h-2zM916 200h2v1h-2zM1324 368h2v1h-2zM754 185h2v1h-2zM1318 365h2v1h-2zM67 304h8v1h-8zM309 284h4v1h-4zM756 186h2v1h-2zM1383 410h2v1h-2zM305 285h4v1h-4zM800 208h2v1h-2zM381 265h3v1h-3zM392 261h3v1h-3zM786 201h2v1h-2zM570 168h2v1h-2zM1177 168h2v1h-2zM470 230h2v1h-2zM1024 126h2v1h-2zM1126 126h2v1h-2zM376 267h3v1h-3zM269 291h6v1h-6zM792 204h2v1h-2zM91 301h8v1h-8zM991 139h2v1h-2zM421 251h3v1h-3zM448 241h3v1h-3zM1376 407h3v1h-3zM576 165h3v1h-3zM405 257h3v1h-3zM760 188h3v1h-3zM1469 432h3v1h-3zM395 260h2v1h-2zM51 307h6v1h-6zM768 191h2v1h-2zM621 151h6v1h-6zM683 151h2v1h-2zM1003 133h2v1h-2zM1051 118h8v1h-8zM1101 118h6v1h-6zM474 228h2v1h-2zM1403 426h2v1h-2zM1413 426h3v1h-3zM1369 403h2v1h-2zM1040 121h3v1h-3zM1115 121h2v1h-2zM413 254h3v1h-3zM259 293h6v1h-6zM1387 413h2v1h-2zM1476 435h2v1h-2zM484 222h2v1h-2zM360 272h3v1h-3zM589 160h3v1h-3zM709 160h3v1h-3zM321 281h4v1h-4zM1367 402h2v1h-2zM579 164h2v1h-2zM719 164h2v1h-2zM765 190h3v1h-3zM931 190h2v1h-2zM1486 440h5v1h-5zM357 273h3v1h-3zM333 278h6v1h-6zM99 300h8v1h-8zM499 213h2v1h-2zM809 213h2v1h-2zM896 213h2v1h-2zM537 183h2v1h-2zM750 183h2v1h-2zM529 189h2v1h-2zM763 189h2v1h-2zM819 217h6v1h-6zM889 217h2v1h-2zM1374 406h2v1h-2zM1480 437h2v1h-2zM1498 437h2v1h-2zM989 140h2v1h-2zM389 262h3v1h-3zM401 258h4v1h-4zM476 227h2v1h-2zM1348 384h2v1h-2zM445 242h3v1h-3zM998 135h2v1h-2zM1145 135h2v1h-2zM466 232h2v1h-2zM1322 367h2v1h-2zM1482 438h2v1h-2zM1496 438h2v1h-2zM996 136h2v1h-2zM987 141h2v1h-2zM1521 420h2v1h-2zM1240 245h1v2h-1zM1650 244h1v2h-1zM1280 312h1v2h-1zM1601 312h1v1h-1zM1260 280h1v2h-1zM1626 280h1v1h-1zM1293 336h1v2h-1zM1580 336h1v2h-1zM1554 376h1v2h-1zM1274 302h1v2h-1zM1608 303h1v1h-1zM1228 229h1v2h-1zM1187 178h1v1h-1zM974 152h1v1h-1zM1162 151h1v2h-1zM1221 221h1v1h-1zM1510 430h1v1h-1zM1600 313h1v1h-1zM1326 369h1v1h-1zM1559 368h1v2h-1zM1271 297h1v2h-1zM1612 298h1v1h-1zM978 147h1v2h-1zM1158 147h1v1h-1zM977 149h1v1h-1zM1160 149h1v1h-1zM1229 231h1v1h-1zM945 180h1v1h-1zM1188 179h1v2h-1zM1558 370h1v1h-1zM1159 148h1v1h-1zM976 150h1v1h-1zM1161 150h1v1h-1zM1291 332h1v2h-1zM1583 332h1v1h-1zM1208 203h1v2h-1zM956 170h1v1h-1zM1180 170h1v1h-1zM1219 219h1v1h-1zM1347 383h1v1h-1zM1550 383h1v1h-1zM1279 310h1v2h-1zM1602 310h1v2h-1zM1189 181h1v1h-1zM739 177h1v1h-1zM949 177h1v1h-1zM1186 177h1v1h-1zM1150 138h1v1h-1zM1253 269h1v2h-1zM1633 270h1v2h-1zM1257 276h1v1h-1zM1629 276h1v1h-1zM1405 427h1v1h-1zM1270 296h1v1h-1zM1613 296h1v2h-1zM1259 279h1v1h-1zM1627 279h1v1h-1zM953 173h1v1h-1zM1183 173h1v1h-1zM1235 238h1v1h-1zM1654 238h1v1h-1zM1254 271h1v1h-1zM1269 294h1v2h-1zM1615 294h1v1h-1zM1287 324h1v2h-1zM1589 324h1v1h-1zM1286 322h1v2h-1zM1590 323h1v1h-1zM1609 302h1v1h-1zM1265 288h1v2h-1zM1620 287h1v2h-1zM1237 240h1v1h-1zM1653 239h1v2h-1zM971 155h1v1h-1zM1165 155h1v1h-1zM1552 379h1v2h-1zM923 196h1v1h-1zM1203 196h1v1h-1zM963 163h1v1h-1zM1172 163h1v1h-1zM1261 282h1v2h-1zM1624 282h1v2h-1zM946 179h1v1h-1zM973 153h1v1h-1zM1163 153h1v1h-1zM1266 290h1v1h-1zM1618 290h1v1h-1zM1311 357h1v1h-1zM1567 356h1v2h-1zM1245 255h1v2h-1zM1643 255h1v2h-1zM532 187h1v1h-1zM1195 187h1v1h-1zM518 199h1v1h-1zM918 199h1v1h-1zM1205 199h1v1h-1zM1239 243h1v2h-1zM1511 429h1v1h-1zM955 171h1v1h-1zM1181 171h1v1h-1zM1258 277h1v2h-1zM1628 277h1v2h-1zM968 158h1v1h-1zM1168 158h1v1h-1zM511 205h1v1h-1zM909 205h1v1h-1zM1209 205h1v1h-1zM1247 258h1v2h-1zM1641 258h1v2h-1zM1283 317h1v1h-1zM1596 317h1v1h-1zM1233 235h1v1h-1zM1659 235h1v1h-1zM1278 309h1v1h-1zM1603 309h1v1h-1zM1264 287h1v1h-1zM1285 320h1v2h-1zM1593 320h1v1h-1zM902 210h1v1h-1zM1212 209h1v2h-1zM1154 142h1v2h-1zM1303 347h1v1h-1zM1573 347h1v2h-1zM1224 224h1v2h-1zM1295 339h1v1h-1zM1578 339h1v2h-1zM502 211h1v1h-1zM806 211h1v1h-1zM1213 211h1v2h-1zM906 207h1v1h-1zM1210 206h1v2h-1zM497 215h1v1h-1zM1216 215h1v1h-1zM1234 236h1v2h-1zM1308 353h1v2h-1zM1569 353h1v2h-1zM1220 220h1v1h-1zM1651 243h1v1h-1zM520 197h1v1h-1zM779 197h1v1h-1zM1204 197h1v2h-1zM1232 234h1v1h-1zM1533 409h1v1h-1zM722 166h1v1h-1zM960 166h1v1h-1zM1175 166h1v1h-1zM1241 247h1v2h-1zM1648 247h1v2h-1zM1242 249h1v2h-1zM1647 249h1v2h-1zM959 167h1v1h-1zM1176 167h1v1h-1zM1276 305h1v2h-1zM1606 306h1v1h-1zM734 174h1v1h-1zM952 174h1v1h-1zM1184 174h1v2h-1zM964 162h1v1h-1zM1171 162h1v1h-1zM1284 318h1v2h-1zM1594 319h1v1h-1zM950 176h1v1h-1zM1185 176h1v1h-1zM967 159h1v1h-1zM1169 159h1v1h-1zM498 214h1v1h-1zM811 214h1v1h-1zM1215 214h1v1h-1zM1534 408h1v1h-1zM1304 348h1v2h-1zM1572 349h1v1h-1zM539 182h1v1h-1zM942 182h1v1h-1zM1190 182h1v1h-1zM1350 385h1v1h-1zM1549 384h1v2h-1zM1536 405h1v1h-1zM1250 264h1v1h-1zM1637 264h1v2h-1zM1556 373h1v2h-1zM1351 386h1v1h-1zM1548 386h1v2h-1zM1313 359h1v1h-1zM1565 359h1v2h-1zM1192 184h1v1h-1zM1315 362h1v1h-1zM1563 362h1v2h-1zM951 175h1v1h-1zM1607 304h1v2h-1zM525 193h1v1h-1zM1200 192h1v2h-1zM1231 233h1v1h-1zM1662 233h1v1h-1zM1524 418h1v1h-1zM965 161h1v1h-1zM1170 160h1v2h-1zM891 216h1v1h-1zM1217 216h1v1h-1zM1614 295h1v1h-1zM501 212h1v1h-1zM1395 419h1v1h-1zM1523 419h1v1h-1zM1243 251h1v2h-1zM1645 252h1v2h-1zM1297 341h1v1h-1zM1577 341h1v1h-1zM1357 392h1v1h-1zM1544 392h1v2h-1zM1551 381h1v2h-1zM1298 342h1v1h-1zM1576 342h1v2h-1zM1561 365h1v2h-1zM1251 265h1v2h-1zM1636 266h1v1h-1zM1218 217h1v2h-1zM515 202h1v1h-1zM1207 201h1v2h-1zM726 169h1v1h-1zM957 169h1v1h-1zM1179 169h1v1h-1zM1512 428h1v1h-1zM510 206h1v1h-1zM972 154h1v1h-1zM1164 154h1v1h-1zM1267 291h1v2h-1zM1616 292h1v2h-1zM526 192h1v1h-1zM929 192h1v1h-1zM995 137h1v1h-1zM1263 285h1v2h-1zM1621 286h1v1h-1zM1595 318h1v1h-1zM1256 274h1v2h-1zM1630 275h1v1h-1zM1591 322h1v1h-1zM478 226h1v1h-1zM1225 226h1v1h-1zM969 157h1v1h-1zM1167 157h1v1h-1zM1390 415h1v1h-1zM1527 415h1v1h-1zM1619 289h1v1h-1zM1631 273h1v2h-1zM970 156h1v1h-1zM1166 156h1v1h-1zM1334 375h1v1h-1zM1555 375h1v1h-1zM1272 299h1v2h-1zM1611 299h1v1h-1zM1582 333h1v1h-1zM1296 340h1v1h-1zM731 172h1v1h-1zM954 172h1v1h-1zM1182 172h1v1h-1zM1385 411h1v1h-1zM1531 411h1v1h-1zM1386 412h1v1h-1zM1530 412h1v1h-1zM1397 421h1v1h-1zM1520 421h1v1h-1zM1249 262h1v2h-1zM1638 263h1v1h-1zM1359 394h1v1h-1zM1543 394h1v2h-1zM1252 267h1v2h-1zM1635 267h1v2h-1zM1277 307h1v2h-1zM1604 308h1v1h-1zM1329 371h1v1h-1zM1557 371h1v2h-1zM1300 344h1v1h-1zM1575 344h1v2h-1zM1634 269h1v1h-1zM523 195h1v1h-1zM1202 195h1v1h-1zM1518 423h1v1h-1zM1236 239h1v1h-1zM1330 372h1v1h-1zM1649 246h1v1h-1zM459 236h1v1h-1zM483 223h1v1h-1zM1223 223h1v1h-1zM1244 253h1v2h-1zM1362 397h1v1h-1zM1541 397h1v2h-1zM1392 417h1v1h-1zM1525 417h1v1h-1zM519 198h1v1h-1zM1366 401h1v1h-1zM1539 400h1v2h-1zM1292 334h1v2h-1zM1581 334h1v2h-1zM1309 355h1v1h-1zM1568 355h1v1h-1zM517 200h1v1h-1zM1206 200h1v1h-1zM1317 364h1v1h-1zM1562 364h1v1h-1zM1371 404h1v1h-1zM1537 403h1v2h-1zM534 185h1v1h-1zM938 185h1v1h-1zM1193 185h1v1h-1zM1275 304h1v1h-1zM1262 284h1v1h-1zM1623 284h1v1h-1zM533 186h1v1h-1zM937 186h1v1h-1zM1194 186h1v1h-1zM1532 410h1v1h-1zM1622 285h1v1h-1zM507 208h1v1h-1zM905 208h1v1h-1zM1211 208h1v1h-1zM1339 378h1v1h-1zM1553 378h1v1h-1zM1248 260h1v2h-1zM1639 261h1v2h-1zM516 201h1v1h-1zM915 201h1v1h-1zM725 168h1v1h-1zM958 168h1v1h-1zM1617 291h1v1h-1zM512 204h1v1h-1zM910 204h1v1h-1zM1273 301h1v1h-1zM1610 300h1v2h-1zM524 194h1v1h-1zM774 194h1v1h-1zM926 194h1v1h-1zM1201 194h1v1h-1zM1151 139h1v1h-1zM1646 251h1v1h-1zM1238 241h1v2h-1zM1652 241h1v2h-1zM1353 388h1v1h-1zM1547 388h1v1h-1zM1294 338h1v1h-1zM1579 338h1v1h-1zM1535 406h1v2h-1zM721 165h1v1h-1zM961 165h1v1h-1zM1174 165h1v1h-1zM1246 257h1v1h-1zM1642 257h1v1h-1zM531 188h1v1h-1zM934 188h1v1h-1zM1196 188h1v1h-1zM1507 432h1v1h-1zM1640 260h1v1h-1zM1605 307h1v1h-1zM527 191h1v1h-1zM930 191h1v1h-1zM1199 191h1v1h-1zM1290 330h1v2h-1zM1584 330h1v2h-1zM1289 328h1v2h-1zM1586 328h1v1h-1zM975 151h1v1h-1zM1142 133h1v1h-1zM1227 228h1v1h-1zM1354 389h1v1h-1zM1546 389h1v2h-1zM1391 416h1v1h-1zM1526 416h1v1h-1zM1515 426h1v1h-1zM1355 390h1v1h-1zM1361 396h1v1h-1zM1542 396h1v1h-1zM1356 391h1v1h-1zM1545 391h1v1h-1zM1644 254h1v1h-1zM1268 293h1v1h-1zM1592 321h1v1h-1zM1288 326h1v2h-1zM1588 325h1v2h-1zM1529 413h1v1h-1zM1502 435h1v1h-1zM1302 346h1v1h-1zM1574 346h1v1h-1zM1389 414h1v1h-1zM1528 414h1v1h-1zM1222 222h1v1h-1zM1255 272h1v2h-1zM1632 272h1v1h-1zM966 160h1v1h-1zM1625 281h1v1h-1zM1538 402h1v1h-1zM1358 393h1v1h-1zM962 164h1v1h-1zM1173 164h1v1h-1zM1342 380h1v1h-1zM528 190h1v1h-1zM1198 190h1v1h-1zM1214 213h1v1h-1zM1364 399h1v1h-1zM1540 399h1v1h-1zM1398 422h1v1h-1zM1519 422h1v1h-1zM1365 400h1v1h-1zM941 183h1v1h-1zM1191 183h1v1h-1zM1402 425h1v1h-1zM1516 425h1v1h-1zM933 189h1v1h-1zM1197 189h1v1h-1zM494 217h1v1h-1zM1363 398h1v1h-1zM1307 352h1v1h-1zM1570 352h1v1h-1zM1152 140h1v1h-1zM1299 343h1v1h-1zM1587 327h1v1h-1zM981 144h1v1h-1zM1155 144h1v1h-1zM1281 314h1v1h-1zM1599 314h1v1h-1zM1360 395h1v1h-1zM1226 227h1v1h-1zM1301 345h1v1h-1zM1230 232h1v1h-1zM1560 367h1v1h-1zM1333 374h1v1h-1zM1147 136h1v1h-1zM980 145h1v1h-1zM1156 145h1v1h-1zM1305 350h1v1h-1zM1571 350h1v2h-1zM1306 351h1v1h-1zM1282 315h1v2h-1zM1598 315h1v1h-1zM1316 363h1v1h-1zM1312 358h1v1h-1zM1566 358h1v1h-1zM1153 141h1v1h-1zM1401 424h1v1h-1zM1517 424h1v1h-1zM1314 360h1v2h-1zM1396 420h1v1h-1zM1310 356h1v1h-1zM1585 329h1v1h-1zM1597 316h1v1h-1zM1564 361h1v1h-1zM1352 387h1v1h-1zM979 146h1v1h-1zM1157 146h1v1h-1z" fill="#ffa500"/><rect x="6" y="61" width="1681" height="2" fill="#ff0000"/><rect x="6" y="124" width="1681" height="2" fill="#ff0000"/><rect x="6" y="224" width="1681" height="2" fill="#28c828"/><rect x="6" y="305" width="1681" height="2" fill="#3c64dc"/><rect x="6" y="359" width="1681" height="2" fill="#3c64dc"/><path d="M6 587h1v1h-1zM14 587h1v1h-1zM22 587h1v1h-1zM30 587h1v1h-1zM38 587h1v1h-1zM46 587h1v1h-1zM54 585h1v3h-1zM62 585h1v3h-1zM70 585h1v3h-1zM78 586h1v2h-1zM86 586h1v2h-1zM94 586h1v2h-1zM102 586h1v2h-1zM110 586h1v2h-1zM118 587h1v1h-1zM126 587h1v1h-1zM134 587h1v1h-1zM142 587h1v1h-1zM150 587h1v1h-1zM158 587h1v1h-1zM166 587h1v1h-1zM174 587h1v1h-1zM182 587h1v1h-1zM190 587h1v1h-1zM198 587h1v1h-1zM206 586h1v2h-1zM214 586h1v2h-1zM222 586h1v2h-1zM230 586h1v2h-1zM238 585h1v3h-1zM246 585h1v3h-1zM254 584h1v4h-1zM262 582h1v6h-1zM270 582h1v6h-1zM278 582h1v6h-1zM286 582h1v6h-1zM294 582h1v6h-1zM302 582h1v6h-1zM310 582h1v6h-1zM318 581h1v7h-1zM326 581h1v7h-1zM334 581h1v7h-1zM342 579h1v9h-1zM350 577h1v11h-1zM358 576h1v12h-1zM366 574h1v14h-1zM374 574h1v14h-1zM382 573h1v15h-1zM390 573h1v15h-1zM398 573h1v15h-1zM406 572h1v16h-1zM414 572h1v16h-1zM422 572h1v16h-1zM430 571h1v17h-1zM438 571h1v17h-1zM446 570h1v18h-1zM454 570h1v18h-1zM462 569h1v19h-1zM470 568h1v20h-1zM478 566h1v22h-1zM486 564h1v24h-1zM494 562h1v26h-1zM502 559h1v29h-1zM510 557h1v31h-1zM518 554h1v34h-1zM526 551h1v37h-1zM534 550h1v38h-1zM542 552h1v36h-1zM550 554h1v34h-1zM558 557h1v31h-1zM566 561h1v27h-1zM574 564h1v24h-1zM582 565h1v23h-1zM590 567h1v21h-1zM598 570h1v18h-1zM606 573h1v15h-1zM614 574h1v14h-1zM622 576h1v12h-1zM630 578h1v10h-1zM638 578h1v10h-1zM646 579h1v9h-1zM654 579h1v9h-1zM662 580h1v8h-1zM670 580h1v8h-1zM678 580h1v8h-1zM686 582h1v6h-1zM694 582h1v6h-1zM702 584h1v4h-1zM710 587h1v1h-1zM718 587h1v1h-1zM726 587h1v9h-1zM734 587h1v15h-1zM742 587h1v20h-1zM750 587h1v22h-1zM758 587h1v23h-1zM766 587h1v22h-1zM774 587h1v23h-1zM782 587h1v23h-1zM790 587h1v24h-1zM798 587h1v23h-1zM806 587h1v23h-1zM814 587h1v21h-1zM822 587h1v14h-1zM830 587h1v11h-1zM838 587h1v5h-1zM846 587h1v1h-1zM854 586h1v2h-1zM862 583h1v5h-1zM870 581h1v7h-1zM878 580h1v8h-1zM886 579h1v9h-1zM894 579h1v9h-1zM902 579h1v9h-1zM910 577h1v11h-1zM918 574h1v14h-1zM926 571h1v17h-1zM934 568h1v20h-1zM942 566h1v22h-1zM950 565h1v23h-1zM958 562h1v26h-1zM966 563h1v25h-1zM974 561h1v27h-1zM982 558h1v30h-1zM990 559h1v29h-1zM998 559h1v29h-1zM1006 561h1v27h-1zM1014 564h1v24h-1zM1022 565h1v23h-1zM1030 568h1v20h-1zM1038 570h1v18h-1zM1046 573h1v15h-1zM1054 575h1v13h-1zM1062 578h1v10h-1zM1070 583h1v5h-1zM1078 585h1v3h-1zM1086 585h1v3h-1zM1094 585h1v3h-1zM1102 585h1v3h-1zM1110 587h1v1h-1zM1118 587h1v2h-1zM1126 587h1v4h-1zM1134 587h1v6h-1zM1142 587h1v8h-1zM1150 587h1v9h-1zM1158 587h1v21h-1zM1166 587h1v28h-1zM1174 587h1v33h-1zM1182 587h1v39h-1zM1190 587h1v39h-1zM1198 587h1v40h-1zM1206 587h1v47h-1zM1214 587h1v55h-1zM1222 587h1v53h-1zM1230 587h1v55h-1zM1238 587h1v56h-1zM1246 587h1v68h-1zM1254 587h1v69h-1zM1262 587h1v69h-1zM1270 587h1v69h-1zM1278 587h1v68h-1zM1286 587h1v69h-1zM1294 587h1v71h-1zM1302 587h1v62h-1zM1310 587h1v57h-1zM1318 587h1v50h-1zM1326 587h1v45h-1zM1334 587h1v45h-1zM1342 587h1v41h-1zM1350 587h1v43h-1zM1358 587h1v43h-1zM1366 587h1v41h-1zM1374 587h1v44h-1zM1382 587h1v45h-1zM1390 587h1v45h-1zM1398 587h1v45h-1zM1406 587h1v45h-1zM1414 587h1v45h-1zM1422 587h1v41h-1zM1430 587h1v35h-1zM1438 587h1v30h-1zM1446 587h1v28h-1zM1454 587h1v27h-1zM1462 587h1v25h-1zM1470 587h1v23h-1zM1478 587h1v21h-1zM1486 587h1v19h-1zM1494 587h1v10h-1zM1502 587h1v1h-1zM1510 581h1v7h-1zM1518 573h1v15h-1zM1526 568h1v20h-1zM1534 560h1v28h-1zM1542 552h1v36h-1zM1550 543h1v45h-1zM1558 537h1v51h-1zM1566 535h1v53h-1zM1574 535h1v53h-1zM1582 536h1v52h-1zM1590 536h1v52h-1zM1598 537h1v51h-1zM1606 539h1v49h-1zM1614 541h1v47h-1zM1622 544h1v44h-1zM1630 544h1v44h-1zM1638 544h1v44h-1zM1646 544h1v44h-1zM1654 545h1v43h-1zM1662 546h1v42h-1z" fill="#c0c0c0"/><path d="M276 582h3v1h-3zM282 582h3v1h-3zM288 582h3v1h-3zM294 582h3v1h-3zM720 582h3v1h-3zM901 582h2v1h-2zM300 581h3v1h-3zM306 581h3v1h-3zM312 581h3v1h-3zM318 581h3v1h-3zM324 581h3v1h-3zM330 581h3v1h-3zM336 581h3v1h-3zM715 581h2v1h-2zM906 581h3v1h-3zM1110 581h3v1h-3zM462 570h3v1h-3zM1069 570h2v1h-2zM540 557h3v1h-3zM588 557h3v1h-3zM522 561h3v1h-3zM606 561h2v1h-2zM997 561h2v1h-2zM1002 561h3v1h-3zM1008 561h3v1h-3zM1027 561h2v1h-2zM1032 561h3v1h-3zM1038 561h3v1h-3zM78 585h3v1h-3zM84 585h3v1h-3zM90 585h3v1h-3zM96 585h3v1h-3zM102 585h3v1h-3zM108 585h3v1h-3zM114 585h3v1h-3zM120 585h3v1h-3zM126 585h3v1h-3zM222 585h3v1h-3zM228 585h3v1h-3zM1134 585h2v1h-2zM1537 585h2v1h-2zM859 598h2v1h-2zM1519 598h2v1h-2zM1398 630h3v1h-3zM1404 630h3v1h-3zM1422 630h3v1h-3zM348 579h3v1h-3zM354 579h3v1h-3zM360 579h3v1h-3zM691 579h2v1h-2zM696 579h3v1h-3zM913 579h2v1h-2zM1104 579h3v1h-3zM1291 652h2v1h-2zM1315 652h2v1h-2zM804 610h3v1h-3zM810 610h3v1h-3zM816 610h3v1h-3zM1194 610h2v1h-2zM13 591h2v1h-2zM876 591h2v1h-2zM1158 591h2v1h-2zM780 604h2v1h-2zM1182 604h2v1h-2zM49 587h2v1h-2zM150 587h3v1h-3zM156 587h3v1h-3zM162 587h3v1h-3zM168 587h3v1h-3zM174 587h3v1h-3zM180 587h3v1h-3zM186 587h3v1h-3zM192 587h3v1h-3zM198 587h3v1h-3zM738 587h3v1h-3zM601 560h2v1h-2zM1014 560h3v1h-3zM1020 560h3v1h-3zM517 562h2v1h-2zM757 595h2v1h-2zM1524 595h2v1h-2zM390 576h3v1h-3zM667 576h2v1h-2zM672 576h3v1h-3zM925 576h2v1h-2zM1092 576h3v1h-3zM1446 626h3v1h-3zM1267 646h2v1h-2zM1333 646h2v1h-2zM534 558h3v1h-3zM594 558h3v1h-3zM1567 558h2v1h-2zM558 554h3v1h-3zM564 554h3v1h-3zM438 571h3v1h-3zM444 571h3v1h-3zM450 571h3v1h-3zM456 571h3v1h-3zM637 571h2v1h-2zM954 571h3v1h-3zM1074 571h3v1h-3zM252 583h3v1h-3zM258 583h3v1h-3zM264 583h3v1h-3zM270 583h3v1h-3zM1117 583h2v1h-2zM54 586h3v1h-3zM60 586h3v1h-3zM66 586h3v1h-3zM72 586h3v1h-3zM132 586h3v1h-3zM138 586h3v1h-3zM144 586h3v1h-3zM204 586h3v1h-3zM210 586h3v1h-3zM216 586h3v1h-3zM733 586h2v1h-2zM888 586h3v1h-3zM43 588h2v1h-2zM883 588h2v1h-2zM1141 588h2v1h-2zM19 590h2v1h-2zM24 590h3v1h-3zM30 590h3v1h-3zM1153 590h2v1h-2zM1531 590h2v1h-2zM1236 632h2v1h-2zM552 555h3v1h-3zM571 555h2v1h-2zM576 555h3v1h-3zM468 569h3v1h-3zM474 569h3v1h-3zM480 569h3v1h-3zM961 569h2v1h-2zM1644 540h3v1h-3zM1374 633h3v1h-3zM498 566h3v1h-3zM978 566h3v1h-3zM1381 631h2v1h-2zM1386 631h3v1h-3zM1392 631h3v1h-3zM1411 631h2v1h-2zM1416 631h3v1h-3zM486 568h3v1h-3zM630 568h2v1h-2zM966 568h3v1h-3zM1302 654h3v1h-3zM1308 654h3v1h-3zM510 564h3v1h-3zM613 564h2v1h-2zM985 564h2v1h-2zM1051 564h2v1h-2zM342 580h3v1h-3zM702 580h3v1h-3zM708 580h3v1h-3zM1260 643h2v1h-2zM1344 643h3v1h-3zM793 608h2v1h-2zM798 609h3v1h-3zM822 609h3v1h-3zM1500 609h2v1h-2zM1320 650h3v1h-3zM763 597h2v1h-2zM1170 597h2v1h-2zM1242 635h2v1h-2zM1470 620h2v1h-2zM1440 627h3v1h-3zM372 577h3v1h-3zM378 577h3v1h-3zM384 577h3v1h-3zM678 577h3v1h-3zM1098 577h3v1h-3zM420 572h3v1h-3zM426 572h3v1h-3zM432 572h3v1h-3zM643 572h2v1h-2zM949 572h2v1h-2zM990 563h3v1h-3zM1045 563h2v1h-2zM1561 563h2v1h-2zM1458 623h3v1h-3zM1248 638h3v1h-3zM1357 638h2v1h-2zM750 592h2v1h-2zM840 605h3v1h-3zM366 578h3v1h-3zM684 578h3v1h-3zM918 578h3v1h-3zM1254 640h2v1h-2zM235 584h2v1h-2zM240 584h3v1h-3zM246 584h3v1h-3zM726 584h3v1h-3zM894 584h3v1h-3zM1123 584h2v1h-2zM1128 584h3v1h-3zM870 594h2v1h-2zM1164 594h2v1h-2zM1596 541h2v1h-2zM1651 541h2v1h-2zM1656 541h3v1h-3zM1230 629h2v1h-2zM1428 629h3v1h-3zM414 573h3v1h-3zM649 573h2v1h-2zM1080 573h3v1h-3zM846 603h2v1h-2zM1608 538h3v1h-3zM1627 538h2v1h-2zM1632 538h3v1h-3zM1207 617h2v1h-2zM1477 617h2v1h-2zM775 601h2v1h-2zM1177 601h2v1h-2zM504 565h3v1h-3zM618 565h3v1h-3zM1056 565h3v1h-3zM660 575h3v1h-3zM931 575h2v1h-2zM936 575h3v1h-3zM1086 575h3v1h-3zM529 559h2v1h-2zM1363 636h2v1h-2zM1590 544h2v1h-2zM397 574h2v1h-2zM402 574h3v1h-3zM408 574h3v1h-3zM654 574h3v1h-3zM942 574h3v1h-3zM786 606h3v1h-3zM835 606h2v1h-2zM1506 606h2v1h-2zM1465 621h2v1h-2zM492 567h3v1h-3zM625 567h2v1h-2zM972 567h3v1h-3zM1062 567h2v1h-2zM1200 613h2v1h-2zM1489 613h2v1h-2zM1285 651h2v1h-2zM1602 539h3v1h-3zM1638 539h3v1h-3zM546 556h3v1h-3zM582 556h3v1h-3zM1225 628h2v1h-2zM1434 628h3v1h-3zM829 607h2v1h-2zM1188 607h2v1h-2zM853 600h2v1h-2zM6 593h3v1h-3zM1297 653h2v1h-2zM1278 649h3v1h-3zM1369 634h2v1h-2zM1614 537h3v1h-3zM1620 537h3v1h-3zM36 589h3v1h-3zM744 589h2v1h-2zM1147 589h2v1h-2zM864 596h3v1h-3zM1350 641h2v1h-2zM1584 547h2v1h-2zM1338 645h3v1h-3zM1273 648h2v1h-2zM1326 648h3v1h-3zM1453 624h2v1h-2zM769 599h2v1h-2zM1494 612h2v1h-2zM1513 602h2v1h-2zM1483 615h2v1h-2zM1116 582h1v1h-1zM1542 581h1v1h-1zM636 570h1v1h-1zM960 570h1v1h-1zM1554 570h1v1h-1zM234 585h1v1h-1zM732 585h1v1h-1zM768 598h1v1h-1zM1172 598h1v1h-1zM1232 630h1v1h-1zM1410 630h1v1h-1zM1544 579h1v1h-1zM1296 652h1v1h-1zM18 591h1v1h-1zM1530 591h1v1h-1zM1579 550h1v1h-1zM1140 587h1v1h-1zM528 560h1v1h-1zM1026 560h1v1h-1zM608 562h1v1h-1zM996 562h1v1h-1zM1044 562h1v1h-1zM1166 595h1v1h-1zM930 576h1v1h-1zM1548 576h1v1h-1zM1220 626h1v1h-1zM570 554h1v1h-1zM1573 554h1v1h-1zM642 571h1v1h-1zM900 583h1v1h-1zM1122 583h1v1h-1zM1136 586h1v1h-1zM1536 586h1v1h-1zM48 588h1v1h-1zM1146 588h1v1h-1zM746 590h1v1h-1zM878 590h1v1h-1zM1380 632h1v1h-1zM1572 555h1v1h-1zM632 569h1v1h-1zM1068 569h1v1h-1zM1555 569h1v1h-1zM1214 622h1v1h-1zM1464 622h1v1h-1zM1598 540h1v1h-1zM1650 540h1v1h-1zM1238 633h1v1h-1zM624 566h1v1h-1zM1064 568h1v1h-1zM1556 568h1v1h-1zM1560 564h1v1h-1zM714 580h1v1h-1zM912 580h1v1h-1zM1543 580h1v1h-1zM828 608h1v1h-1zM1190 608h1v1h-1zM1502 608h1v1h-1zM1284 650h1v1h-1zM1368 635h1v1h-1zM1212 620h1v1h-1zM1219 625h1v1h-1zM1452 625h1v1h-1zM1224 627h1v1h-1zM924 577h1v1h-1zM648 572h1v1h-1zM516 563h1v1h-1zM612 563h1v1h-1zM1050 563h1v1h-1zM1206 616h1v1h-1zM1482 616h1v1h-1zM12 592h1v1h-1zM1160 592h1v1h-1zM782 605h1v1h-1zM1184 605h1v1h-1zM1508 605h1v1h-1zM690 578h1v1h-1zM1352 640h1v1h-1zM756 594h1v1h-1zM1526 594h1v1h-1zM1662 541h1v1h-1zM948 573h1v1h-1zM1512 603h1v1h-1zM852 601h1v1h-1zM984 565h1v1h-1zM396 575h1v1h-1zM666 575h1v1h-1zM1549 575h1v1h-1zM600 559h1v1h-1zM1566 559h1v1h-1zM1244 636h1v1h-1zM1550 574h1v1h-1zM1213 621h1v1h-1zM1586 546h1v1h-1zM1290 651h1v1h-1zM1272 647h1v1h-1zM1332 647h1v1h-1zM1196 611h1v1h-1zM1496 611h1v1h-1zM792 607h1v1h-1zM834 607h1v1h-1zM774 600h1v1h-1zM1176 600h1v1h-1zM1578 551h1v1h-1zM752 593h1v1h-1zM872 593h1v1h-1zM1574 553h1v1h-1zM1314 653h1v1h-1zM1626 537h1v1h-1zM42 589h1v1h-1zM882 589h1v1h-1zM1152 589h1v1h-1zM762 596h1v1h-1zM1256 641h1v1h-1zM1266 645h1v1h-1zM1262 644h1v1h-1zM1476 618h1v1h-1zM1218 624h1v1h-1zM1580 549h1v1h-1zM858 599h1v1h-1zM1518 599h1v1h-1zM848 602h1v1h-1zM1472 619h1v1h-1zM1356 639h1v1h-1zM1362 637h1v1h-1zM1202 614h1v1h-1zM1488 614h1v1h-1zM1592 543h1v1h-1z" fill="#ff0000"/><path d="M7 698h3v1h-3zM13 698h3v1h-3zM19 698h3v1h-3zM25 698h3v1h-3zM31 698h3v1h-3zM37 698h3v1h-3zM43 698h3v1h-3zM49 698h3v1h-3zM55 698h3v1h-3zM61 698h3v1h-3zM67 698h3v1h-3zM73 698h3v1h-3zM79 698h3v1h-3zM85 698h3v1h-3zM91 698h3v1h-3zM97 698h3v1h-3zM103 698h3v1h-3zM109 698h3v1h-3zM115 698h3v1h-3zM121 698h3v1h-3zM127 698h3v1h-3zM133 698h3v1h-3zM139 698h3v1h-3zM145 698h3v1h-3zM151 698h3v1h-3zM157 698h3v1h-3zM163 698h3v1h-3zM169 698h3v1h-3zM175 698h3v1h-3zM181 698h3v1h-3zM187 698h3v1h-3zM193 698h3v1h-3zM199 698h3v1h-3zM205 698h3v1h-3zM211 698h3v1h-3zM217 698h3v1h-3zM223 698h3v1h-3zM229 698h3v1h-3zM235 698h3v1h-3zM241 698h3v1h-3zM247 698h3v1h-3zM253 698h3v1h-3zM259 698h3v1h-3zM265 698h3v1h-3zM271 698h3v1h-3zM277 698h3v1h-3zM283 698h3v1h-3zM289 698h3v1h-3zM295 698h3v1h-3zM301 698h3v1h-3zM307 698h3v1h-3zM313 698h3v1h-3zM319 698h3v1h-3zM325 698h3v1h-3zM331 698h3v1h-3zM337 698h3v1h-3zM343 698h3v1h-3zM349 698h3v1h-3zM355 698h3v1h-3zM361 698h3v1h-3zM367 698h3v1h-3zM373 698h3v1h-3zM379 698h3v1h-3zM385 698h3v1h-3zM391 698h3v1h-3zM397 698h3v1h-3zM403 698h3v1h-3zM409 698h3v1h-3zM415 698h3v1h-3zM421 698h3v1h-3zM427 698h3v1h-3zM433 698h3v1h-3zM439 698h3v1h-3zM445 698h3v1h-3zM451 698h3v1h-3zM457 698h3v1h-3zM463 698h3v1h-3zM469 698h3v1h-3zM475 698h3v1h-3zM481 698h3v1h-3zM487 698h3v1h-3zM493 698h3v1h-3zM499 698h3v1h-3zM505 698h3v1h-3zM511 698h3v1h-3zM517 698h3v1h-3zM523 698h3v1h-3zM529 698h3v1h-3zM535 698h3v1h-3zM541 698h3v1h-3zM547 698h3v1h-3zM553 698h3v1h-3zM559 698h3v1h-3zM565 698h3v1h-3zM571 698h3v1h-3zM577 698h3v1h-3zM583 698h3v1h-3zM589 698h3v1h-3zM595 698h3v1h-3zM601 698h3v1h-3zM607 698h3v1h-3zM613 698h3v1h-3zM619 698h3v1h-3zM625 698h3v1h-3zM631 698h3v1h-3zM637 698h3v1h-3zM643 698h3v1h-3zM649 698h3v1h-3zM655 698h3v1h-3zM661 698h3v1h-3zM667 698h3v1h-3zM673 698h3v1h-3zM679 698h3v1h-3zM685 698h3v1h-3zM691 698h3v1h-3zM697 698h3v1h-3zM703 698h3v1h-3zM709 698h3v1h-3zM715 698h3v1h-3zM721 698h3v1h-3zM727 698h3v1h-3zM733 698h3v1h-3zM739 698h3v1h-3zM745 698h3v1h-3zM751 698h3v1h-3zM757 698h3v1h-3zM763 698h3v1h-3zM769 698h3v1h-3zM775 698h3v1h-3zM781 698h3v1h-3zM787 698h3v1h-3zM793 698h3v1h-3zM799 698h3v1h-3zM805 698h3v1h-3zM811 698h3v1h-3zM817 698h3v1h-3zM823 698h3v1h-3zM829 698h3v1h-3zM835 698h3v1h-3zM841 698h3v1h-3zM847 698h3v1h-3zM853 698h3v1h-3zM859 698h3v1h-3zM865 698h3v1h-3zM871 698h3v1h-3zM877 698h3v1h-3zM883 698h3v1h-3zM889 698h3v1h-3zM895 698h3v1h-3zM901 698h3v1h-3zM907 698h3v1h-3zM913 698h3v1h-3zM919 698h3v1h-3zM925 698h3v1h-3zM931 698h3v1h-3zM937 698h3v1h-3zM943 698h3v1h-3zM949 698h3v1h-3zM955 698h3v1h-3zM961 698h3v1h-3zM967 698h3v1h-3zM973 698h3v1h-3zM979 698h3v1h-3zM985 698h3v1h-3zM991 698h3v1h-3zM997 698h3v1h-3zM1003 698h3v1h-3zM1009 698h3v1h-3zM1015 698h3v1h-3zM1021 698h3v1h-3zM1027 698h3v1h-3zM1033 698h3v1h-3zM1039 698h3v1h-3zM1045 698h3v1h-3zM1051 698h3v1h-3zM1057 698h3v1h-3zM1063 698h3v1h-3zM1069 698h3v1h-3zM1075 698h3v1h-3zM1081 698h3v1h-3zM1087 698h3v1h-3zM1093 698h3v1h-3zM1099 698h3v1h-3zM1105 698h3v1h-3zM1111 698h3v1h-3zM1117 698h3v1h-3zM1123 698h3v1h-3zM1129 698h3v1h-3zM1135 698h3v1h-3zM1141 698h3v1h-3zM1147 698h3v1h-3zM1153 698h3v1h-3zM1159 698h3v1h-3zM1165 698h3v1h-3zM1171 698h3v1h-3zM1177 698h3v1h-3zM1183 698h3v1h-3zM1189 698h3v1h-3zM1195 698h3v1h-3zM1201 698h3v1h-3zM1207 698h3v1h-3zM1213 698h3v1h-3zM1219 698h3v1h-3zM1225 698h3v1h-3zM1231 698h3v1h-3zM1237 698h3v1h-3zM1243 698h3v1h-3zM1249 698h3v1h-3zM1255 698h3v1h-3zM1261 698h3v1h-3zM1267 698h3v1h-3zM1273 698h3v1h-3zM1279 698h3v1h-3zM1285 698h3v1h-3zM1291 698h3v1h-3zM1297 698h3v1h-3zM1303 698h3v1h-3zM1309 698h3v1h-3zM1315 698h3v1h-3zM1321 698h3v1h-3zM1327 698h3v1h-3zM1333 698h3v1h-3zM1339 698h3v1h-3zM1345 698h3v1h-3zM1351 698h3v1h-3zM1357 698h3v1h-3zM1363 698h3v1h-3zM1369 698h3v1h-3zM1375 698h3v1h-3zM1381 698h3v1h-3zM1387 698h3v1h-3zM1393 698h3v1h-3zM1399 698h3v1h-3zM1405 698h3v1h-3zM1411 698h3v1h-3zM1417 698h3v1h-3zM1423 698h3v1h-3zM1429 698h3v1h-3zM1435 698h3v1h-3zM1441 698h3v1h-3zM1447 698h3v1h-3zM1453 698h3v1h-3zM1459 698h3v1h-3zM1465 698h3v1h-3zM1471 698h3v1h-3zM1477 698h3v1h-3zM1483 698h3v1h-3zM1489 698h3v1h-3zM1495 698h3v1h-3zM1501 698h3v1h-3zM1507 698h3v1h-3zM1513 698h3v1h-3zM1519 698h3v1h-3zM1525 698h3v1h-3zM1531 698h3v1h-3zM1537 698h3v1h-3zM1543 698h3v1h-3zM1549 698h3v1h-3zM1555 698h3v1h-3zM1561 698h3v1h-3zM1567 698h3v1h-3zM1573 698h3v1h-3zM1579 698h3v1h-3zM1585 698h3v1h-3zM1591 698h3v1h-3zM1597 698h3v1h-3zM1603 698h3v1h-3zM1609 698h3v1h-3zM1615 698h3v1h-3zM1621 698h3v1h-3zM1627 698h3v1h-3zM1633 698h3v1h-3zM1639 698h3v1h-3zM1645 698h3v1h-3zM1651 698h3v1h-3zM1657 698h3v1h-3zM1663 698h3v1h-3zM1669 698h3v1h-3zM1675 698h3v1h-3zM1681 698h3v1h-3z" fill="#c0c0c0"/><path d="M7 738h3v1h-3zM13 738h3v1h-3zM19 738h3v1h-3zM25 738h3v1h-3zM31 738h3v1h-3zM37 738h3v1h-3zM43 738h3v1h-3zM49 738h3v1h-3zM55 738h3v1h-3zM61 738h3v1h-3zM67 738h3v1h-3zM73 738h3v1h-3zM79 738h3v1h-3zM85 738h3v1h-3zM91 738h3v1h-3zM97 738h3v1h-3zM103 738h3v1h-3zM109 738h3v1h-3zM115 738h3v1h-3zM121 738h3v1h-3zM127 738h3v1h-3zM133 738h3v1h-3zM139 738h3v1h-3zM145 738h3v1h-3zM151 738h3v1h-3zM157 738h3v1h-3zM163 738h3v1h-3zM169 738h3v1h-3zM175 738h3v1h-3zM181 738h3v1h-3zM187 738h3v1h-3zM193 738h3v1h-3zM199 738h3v1h-3zM205 738h3v1h-3zM211 738h3v1h-3zM217 738h3v1h-3zM223 738h3v1h-3zM229 738h3v1h-3zM235 738h3v1h-3zM241 738h3v1h-3zM247 738h3v1h-3zM253 738h3v1h-3zM259 738h3v1h-3zM265 738h3v1h-3zM271 738h3v1h-3zM277 738h3v1h-3zM283 738h3v1h-3zM289 738h3v1h-3zM295 738h3v1h-3zM301 738h3v1h-3zM307 738h3v1h-3zM313 738h3v1h-3zM319 738h3v1h-3zM325 738h3v1h-3zM331 738h3v1h-3zM337 738h3v1h-3zM343 738h3v1h-3zM349 738h3v1h-3zM355 738h3v1h-3zM361 738h3v1h-3zM367 738h3v1h-3zM373 738h3v1h-3zM379 738h3v1h-3zM385 738h3v1h-3zM391 738h3v1h-3zM397 738h3v1h-3zM403 738h3v1h-3zM409 738h3v1h-3zM415 738h3v1h-3zM421 738h3v1h-3zM427 738h3v1h-3zM433 738h3v1h-3zM439 738h3v1h-3zM445 738h3v1h-3zM451 738h3v1h-3zM457 738h3v1h-3zM463 738h3v1h-3zM469 738h3v1h-3zM475 738h3v1h-3zM481 738h3v1h-3zM487 738h3v1h-3zM493 738h3v1h-3zM499 738h3v1h-3zM505 738h3v1h-3zM511 738h3v1h-3zM517 738h3v1h-3zM523 738h3v1h-3zM529 738h3v1h-3zM535 738h3v1h-3zM541 738h3v1h-3zM547 738h3v1h-3zM553 738h3v1h-3zM559 738h3v1h-3zM565 738h3v1h-3zM571 738h3v1h-3zM577 738h3v1h-3zM583 738h3v1h-3zM589 738h3v1h-3zM595 738h3v1h-3zM601 738h3v1h-3zM607 738h3v1h-3zM613 738h3v1h-3zM619 738h3v1h-3zM625 738h3v1h-3zM631 738h3v1h-3zM637 738h3v1h-3zM643 738h3v1h-3zM649 738h3v1h-3zM655 738h3v1h-3zM661 738h3v1h-3zM667 738h3v1h-3zM673 738h3v1h-3zM679 738h3v1h-3zM685 738h3v1h-3zM691 738h3v1h-3zM697 738h3v1h-3zM703 738h3v1h-3zM709 738h3v1h-3zM715 738h3v1h-3zM721 738h3v1h-3zM727 738h3v1h-3zM733 738h3v1h-3zM739 738h3v1h-3zM745 738h3v1h-3zM751 738h3v1h-3zM757 738h3v1h-3zM763 738h3v1h-3zM769 738h3v1h-3zM775 738h3v1h-3zM781 738h3v1h-3zM787 738h3v1h-3zM793 738h3v1h-3zM799 738h3v1h-3zM805 738h3v1h-3zM811 738h3v1h-3zM817 738h3v1h-3zM823 738h3v1h-3zM829 738h3v1h-3zM835 738h3v1h-3zM841 738h3v1h-3zM847 738h3v1h-3zM853 738h3v1h-3zM859 738h3v1h-3zM865 738h3v1h-3zM871 738h3v1h-3zM877 738h3v1h-3zM883 738h3v1h-3zM889 738h3v1h-3zM895 738h3v1h-3zM901 738h3v1h-3zM907 738h3v1h-3zM913 738h3v1h-3zM919 738h3v1h-3zM925 738h3v1h-3zM931 738h3v1h-3zM937 738h3v1h-3zM943 738h3v1h-3zM949 738h3v1h-3zM955 738h3v1h-3zM961 738h3v1h-3zM967 738h3v1h-3zM973 738h3v1h-3zM979 738h3v1h-3zM985 738h3v1h-3zM991 738h3v1h-3zM997 738h3v1h-3zM1003 738h3v1h-3zM1009 738h3v1h-3zM1015 738h3v1h-3zM1021 738h3v1h-3zM1027 738h3v1h-3zM1033 738h3v1h-3zM1039 738h3v1h-3zM1045 738h3v1h-3zM1051 738h3v1h-3zM1057 738h3v1h-3zM1063 738h3v1h-3zM1069 738h3v1h-3zM1075 738h3v1h-3zM1081 738h3v1h-3zM1087 738h3v1h-3zM1093 738h3v1h-3zM1099 738h3v1h-3zM1105 738h3v1h-3zM1111 738h3v1h-3zM1117 738h3v1h-3zM1123 738h3v1h-3zM1129 738h3v1h-3zM1135 738h3v1h-3zM1141 738h3v1h-3zM1147 738h3v1h-3zM1153 738h3v1h-3zM1159 738h3v1h-3zM1165 738h3v1h-3zM1171 738h3v1h-3zM1177 738h3v1h-3zM1183 738h3v1h-3zM1189 738h3v1h-3zM1195 738h3v1h-3zM1201 738h3v1h-3zM1207 738h3v1h-3zM1213 738h3v1h-3zM1219 738h3v1h-3zM1225 738h3v1h-3zM1231 738h3v1h-3zM1237 738h3v1h-3zM1243 738h3v1h-3zM1249 738h3v1h-3zM1255 738h3v1h-3zM1261 738h3v1h-3zM1267 738h3v1h-3zM1273 738h3v1h-3zM1279 738h3v1h-3zM1285 738h3v1h-3zM1291 738h3v1h-3zM1297 738h3v1h-3zM1303 738h3v1h-3zM1309 738h3v1h-3zM1315 738h3v1h-3zM1321 738h3v1h-3zM1327 738h3v1h-3zM1333 738h3v1h-3zM1339 738h3v1h-3zM1345 738h3v1h-3zM1351 738h3v1h-3zM1357 738h3v1h-3zM1363 738h3v1h-3zM1369 738h3v1h-3zM1375 738h3v1h-3zM1381 738h3v1h-3zM1387 738h3v1h-3zM1393 738h3v1h-3zM1399 738h3v1h-3zM1405 738h3v1h-3zM1411 738h3v1h-3zM1417 738h3v1h-3zM1423 738h3v1h-3zM1429 738h3v1h-3zM1435 738h3v1h-3zM1441 738h3v1h-3zM1447 738h3v1h-3zM1453 738h3v1h-3zM1459 738h3v1h-3zM1465 738h3v1h-3zM1471 738h3v1h-3zM1477 738h3v1h-3zM1483 738h3v1h-3zM1489 738h3v1h-3zM1495 738h3v1h-3zM1501 738h3v1h-3zM1507 738h3v1h-3zM1513 738h3v1h-3zM1519 738h3v1h-3zM1525 738h3v1h-3zM1531 738h3v1h-3zM1537 738h3v1h-3zM1543 738h3v1h-3zM1549 738h3v1h-3zM1555 738h3v1h-3zM1561 738h3v1h-3zM1567 738h3v1h-3zM1573 738h3v1h-3zM1579 738h3v1h-3zM1585 738h3v1h-3zM1591 738h3v1h-3zM1597 738h3v1h-3zM1603 738h3v1h-3zM1609 738h3v1h-3zM1615 738h3v1h-3zM1621 738h3v1h-3zM1627 738h3v1h-3zM1633 738h3v1h-3zM1639 738h3v1h-3zM1645 738h3v1h-3zM1651 738h3v1h-3zM1657 738h3v1h-3zM1663 738h3v1h-3zM1669 738h3v1h-3zM1675 738h3v1h-3zM1681 738h3v1h-3z" fill="#c0c0c0"/><path d="M1168 740h3v1h-3zM1179 740h2v1h-2zM1208 740h3v1h-3zM134 723h2v1h-2zM1065 723h2v1h-2zM1076 723h2v1h-2zM1111 723h2v1h-2zM1327 723h2v1h-2zM1342 723h2v1h-2zM1445 723h4v1h-4zM1459 723h2v1h-2zM209 706h4v1h-4zM241 706h2v1h-2zM276 706h2v1h-2zM291 706h8v1h-8zM913 706h2v1h-2zM1501 706h4v1h-4zM1613 706h6v1h-6zM1623 706h2v1h-2zM726 741h17v1h-17zM1165 741h3v1h-3zM1181 741h2v1h-2zM1211 741h2v1h-2zM766 727h2v1h-2zM809 727h2v1h-2zM1118 727h2v1h-2zM1149 727h2v1h-2zM1334 727h2v1h-2zM1350 727h13v1h-13zM1367 727h2v1h-2zM1382 727h3v1h-3zM1397 727h4v1h-4zM1416 727h3v1h-3zM609 716h4v1h-4zM645 716h3v1h-3zM693 716h3v1h-3zM1030 716h11v1h-11zM1093 716h6v1h-6zM83 719h8v1h-8zM113 719h4v1h-4zM123 719h5v1h-5zM142 719h5v1h-5zM161 719h2v1h-2zM686 719h2v1h-2zM700 719h2v1h-2zM1056 719h3v1h-3zM1084 719h2v1h-2zM1433 719h4v1h-4zM21 707h2v1h-2zM203 707h6v1h-6zM278 707h13v1h-13zM838 707h3v1h-3zM911 707h2v1h-2zM969 707h2v1h-2zM1497 707h4v1h-4zM1619 707h4v1h-4zM105 722h2v1h-2zM132 722h2v1h-2zM136 722h2v1h-2zM157 722h2v1h-2zM1063 722h2v1h-2zM1078 722h2v1h-2zM1302 722h11v1h-11zM1325 722h2v1h-2zM1425 722h2v1h-2zM1443 722h2v1h-2zM1461 722h6v1h-6zM1475 722h8v1h-8zM117 720h6v1h-6zM128 720h2v1h-2zM140 720h2v1h-2zM147 720h6v1h-6zM1059 720h2v1h-2zM1082 720h2v1h-2zM1317 720h4v1h-4zM1437 720h3v1h-3zM16 709h3v1h-3zM53 709h11v1h-11zM174 709h5v1h-5zM185 709h4v1h-4zM193 709h4v1h-4zM235 709h4v1h-4zM580 709h2v1h-2zM584 709h3v1h-3zM835 709h2v1h-2zM845 709h4v1h-4zM861 709h12v1h-12zM908 709h2v1h-2zM1000 709h3v1h-3zM707 724h2v1h-2zM1074 724h2v1h-2zM1113 724h2v1h-2zM1125 724h4v1h-4zM1141 724h3v1h-3zM1329 724h2v1h-2zM1340 724h2v1h-2zM1344 724h2v1h-2zM1449 724h4v1h-4zM1456 724h3v1h-3zM750 731h5v1h-5zM759 731h2v1h-2zM774 731h5v1h-5zM785 731h4v1h-4zM792 731h2v1h-2zM1197 731h2v1h-2zM1232 731h3v1h-3zM1254 731h5v1h-5zM1275 731h6v1h-6zM1374 731h2v1h-2zM30 713h5v1h-5zM571 713h2v1h-2zM621 713h2v1h-2zM638 713h2v1h-2zM652 713h2v1h-2zM657 713h4v1h-4zM667 713h8v1h-8zM829 713h2v1h-2zM885 713h4v1h-4zM901 713h2v1h-2zM1010 713h2v1h-2zM1018 713h2v1h-2zM1025 713h2v1h-2zM19 708h2v1h-2zM23 708h2v1h-2zM179 708h6v1h-6zM197 708h6v1h-6zM217 708h2v1h-2zM582 708h2v1h-2zM841 708h4v1h-4zM990 708h10v1h-10zM1494 708h3v1h-3zM251 701h8v1h-8zM265 701h4v1h-4zM310 701h2v1h-2zM922 701h2v1h-2zM939 701h2v1h-2zM947 701h5v1h-5zM979 701h2v1h-2zM1530 701h2v1h-2zM1569 701h2v1h-2zM1633 701h4v1h-4zM1643 701h20v1h-20zM9 714h2v1h-2zM71 714h2v1h-2zM167 714h2v1h-2zM568 714h3v1h-3zM617 714h4v1h-4zM623 714h2v1h-2zM640 714h3v1h-3zM650 714h2v1h-2zM661 714h6v1h-6zM1012 714h2v1h-2zM1016 714h2v1h-2zM1549 694h6v1h-6zM1559 694h2v1h-2zM78 718h5v1h-5zM91 718h4v1h-4zM110 718h3v1h-3zM631 718h2v1h-2zM688 718h3v1h-3zM698 718h2v1h-2zM1045 718h11v1h-11zM1086 718h3v1h-3zM1105 718h2v1h-2zM1430 718h3v1h-3zM271 703h2v1h-2zM306 703h2v1h-2zM918 703h2v1h-2zM974 703h2v1h-2zM1515 703h13v1h-13zM1572 703h2v1h-2zM1579 703h8v1h-8zM1593 703h4v1h-4zM1603 703h5v1h-5zM1628 703h2v1h-2zM710 726h5v1h-5zM1070 726h2v1h-2zM1116 726h2v1h-2zM1120 726h3v1h-3zM1133 726h4v1h-4zM1147 726h2v1h-2zM1332 726h2v1h-2zM1336 726h2v1h-2zM1348 726h2v1h-2zM1363 726h4v1h-4zM1419 726h2v1h-2zM213 705h2v1h-2zM299 705h5v1h-5zM542 705h13v1h-13zM1505 705h4v1h-4zM1611 705h2v1h-2zM1625 705h2v1h-2zM1293 735h2v1h-2zM318 697h5v1h-5zM331 697h4v1h-4zM1539 697h2v1h-2zM1563 697h2v1h-2zM764 728h2v1h-2zM768 728h2v1h-2zM798 728h5v1h-5zM807 728h2v1h-2zM1369 728h2v1h-2zM1380 728h2v1h-2zM1385 728h4v1h-4zM1393 728h4v1h-4zM1401 728h4v1h-4zM1411 728h5v1h-5zM27 711h2v1h-2zM43 711h6v1h-6zM66 711h2v1h-2zM171 711h2v1h-2zM225 711h4v1h-4zM576 711h2v1h-2zM589 711h2v1h-2zM824 711h3v1h-3zM853 711h4v1h-4zM877 711h4v1h-4zM893 711h4v1h-4zM905 711h2v1h-2zM1005 711h3v1h-3zM357 688h6v1h-6zM403 688h2v1h-2zM411 688h4v1h-4zM430 688h13v1h-13zM761 730h2v1h-2zM772 730h2v1h-2zM779 730h6v1h-6zM794 730h2v1h-2zM1193 730h4v1h-4zM1227 730h5v1h-5zM1259 730h16v1h-16zM1372 730h2v1h-2zM1376 730h2v1h-2zM1555 693h4v1h-4zM400 689h3v1h-3zM755 732h4v1h-4zM789 732h3v1h-3zM1235 732h2v1h-2zM1281 732h4v1h-4zM35 712h8v1h-8zM68 712h2v1h-2zM222 712h3v1h-3zM573 712h3v1h-3zM591 712h2v1h-2zM654 712h3v1h-3zM675 712h4v1h-4zM827 712h2v1h-2zM831 712h2v1h-2zM881 712h4v1h-4zM889 712h4v1h-4zM897 712h4v1h-4zM903 712h2v1h-2zM1008 712h2v1h-2zM1020 712h2v1h-2zM1023 712h2v1h-2zM481 680h4v1h-4zM517 680h4v1h-4zM314 699h2v1h-2zM926 699h10v1h-10zM954 699h2v1h-2zM1534 699h2v1h-2zM76 717h2v1h-2zM598 717h11v1h-11zM627 717h2v1h-2zM691 717h2v1h-2zM696 717h2v1h-2zM1041 717h4v1h-4zM1089 717h4v1h-4zM715 725h4v1h-4zM812 725h2v1h-2zM1068 725h2v1h-2zM1072 725h2v1h-2zM1123 725h2v1h-2zM1129 725h4v1h-4zM1137 725h4v1h-4zM1144 725h3v1h-3zM1338 725h2v1h-2zM1346 725h2v1h-2zM1421 725h2v1h-2zM1453 725h3v1h-3zM73 715h2v1h-2zM566 715h2v1h-2zM595 715h2v1h-2zM613 715h4v1h-4zM635 715h2v1h-2zM643 715h2v1h-2zM648 715h2v1h-2zM681 715h2v1h-2zM1014 715h2v1h-2zM1028 715h2v1h-2zM1099 715h4v1h-4zM273 704h2v1h-2zM304 704h2v1h-2zM555 704h4v1h-4zM916 704h2v1h-2zM1509 704h6v1h-6zM1574 704h5v1h-5zM1597 704h6v1h-6zM1608 704h3v1h-3zM259 700h6v1h-6zM312 700h2v1h-2zM924 700h2v1h-2zM936 700h3v1h-3zM952 700h2v1h-2zM981 700h2v1h-2zM1532 700h2v1h-2zM1567 700h2v1h-2zM1637 700h6v1h-6zM1171 739h2v1h-2zM1176 739h3v1h-3zM1206 739h2v1h-2zM97 721h2v1h-2zM130 721h2v1h-2zM138 721h2v1h-2zM153 721h4v1h-4zM703 721h2v1h-2zM1061 721h2v1h-2zM1080 721h2v1h-2zM1313 721h4v1h-4zM1321 721h4v1h-4zM1440 721h3v1h-3zM1467 721h8v1h-8zM1483 721h4v1h-4zM323 696h8v1h-8zM1541 696h4v1h-4zM1158 743h3v1h-3zM468 682h2v1h-2zM510 682h3v1h-3zM342 687h3v1h-3zM355 687h2v1h-2zM363 687h6v1h-6zM405 687h6v1h-6zM443 687h8v1h-8zM246 702h5v1h-5zM269 702h2v1h-2zM308 702h2v1h-2zM920 702h2v1h-2zM941 702h6v1h-6zM976 702h3v1h-3zM1528 702h2v1h-2zM1587 702h6v1h-6zM1630 702h3v1h-3zM377 684h4v1h-4zM464 684h2v1h-2zM14 710h2v1h-2zM49 710h4v1h-4zM64 710h2v1h-2zM189 710h4v1h-4zM229 710h6v1h-6zM578 710h2v1h-2zM587 710h2v1h-2zM822 710h2v1h-2zM849 710h4v1h-4zM857 710h4v1h-4zM873 710h4v1h-4zM1003 710h2v1h-2zM496 677h3v1h-3zM770 729h2v1h-2zM796 729h2v1h-2zM803 729h4v1h-4zM1190 729h3v1h-3zM1222 729h5v1h-5zM1378 729h2v1h-2zM1389 729h4v1h-4zM1405 729h6v1h-6zM1237 733h2v1h-2zM1285 733h4v1h-4zM491 678h5v1h-5zM505 678h2v1h-2zM525 678h2v1h-2zM1289 734h4v1h-4zM485 679h6v1h-6zM521 679h4v1h-4zM1545 695h4v1h-4zM390 690h10v1h-10zM345 686h4v1h-4zM352 686h3v1h-3zM369 686h4v1h-4zM385 686h2v1h-2zM451 686h8v1h-8zM470 681h11v1h-11zM513 681h4v1h-4zM316 698h2v1h-2zM956 698h2v1h-2zM1536 698h3v1h-3zM1161 742h4v1h-4zM1213 742h2v1h-2zM381 683h2v1h-2zM466 683h2v1h-2zM349 685h3v1h-3zM373 685h4v1h-4zM459 685h5v1h-5zM1173 738h3v1h-3zM501 675h2v1h-2zM499 676h2v1h-2zM725 739h1v2h-1zM743 740h1v1h-1zM1156 739h1v2h-1zM1183 739h1v2h-1zM1215 740h1v2h-1zM1245 740h1v1h-1zM1247 740h1v1h-1zM100 723h1v1h-1zM104 723h1v1h-1zM706 723h1v1h-1zM815 722h1v2h-1zM1301 723h1v2h-1zM1424 723h1v1h-1zM215 706h1v1h-1zM559 705h1v2h-1zM964 706h1v2h-1zM971 706h1v1h-1zM988 706h1v1h-1zM1157 741h1v2h-1zM1246 741h1v1h-1zM719 727h1v2h-1zM1299 727h1v1h-1zM7 716h1v1h-1zM75 716h1v1h-1zM165 716h1v1h-1zM597 716h1v1h-1zM626 716h1v1h-1zM634 716h1v1h-1zM683 716h1v1h-1zM819 715h1v2h-1zM1103 716h1v1h-1zM1489 716h1v1h-1zM95 719h1v1h-1zM109 719h1v1h-1zM630 719h1v1h-1zM817 718h1v2h-1zM1107 719h1v1h-1zM1429 719h1v1h-1zM1487 719h1v2h-1zM216 707h1v1h-1zM240 707h1v1h-1zM560 707h1v1h-1zM989 707h1v1h-1zM99 722h1v1h-1zM705 722h1v1h-1zM1110 722h1v1h-1zM96 720h1v1h-1zM108 720h1v1h-1zM160 720h1v1h-1zM702 720h1v1h-1zM816 720h1v2h-1zM1108 720h1v1h-1zM1428 720h1v1h-1zM25 709h1v1h-1zM219 709h1v1h-1zM562 709h1v2h-1zM965 708h1v2h-1zM967 709h1v1h-1zM1493 709h1v2h-1zM101 724h1v1h-1zM103 724h1v1h-1zM814 724h1v1h-1zM1067 724h1v1h-1zM1423 724h1v1h-1zM721 731h1v2h-1zM1152 731h1v2h-1zM1189 730h1v2h-1zM1221 730h1v2h-1zM1296 731h1v2h-1zM11 713h1v1h-1zM70 713h1v1h-1zM169 713h1v1h-1zM565 713h1v2h-1zM593 713h1v1h-1zM679 713h1v1h-1zM820 713h1v2h-1zM1491 713h1v1h-1zM239 708h1v1h-1zM561 708h1v1h-1zM837 708h1v1h-1zM910 708h1v1h-1zM968 708h1v1h-1zM540 700h1v2h-1zM960 700h1v2h-1zM983 701h1v1h-1zM594 714h1v1h-1zM637 714h1v1h-1zM680 714h1v1h-1zM1027 714h1v1h-1zM1490 714h1v2h-1zM336 694h1v2h-1zM420 694h1v1h-1zM424 694h1v1h-1zM537 693h1v2h-1zM163 718h1v1h-1zM629 718h1v1h-1zM685 718h1v1h-1zM1488 717h1v2h-1zM245 703h1v1h-1zM541 702h1v2h-1zM962 703h1v2h-1zM985 703h1v1h-1zM718 726h1v1h-1zM811 726h1v1h-1zM1300 725h1v2h-1zM243 705h1v1h-1zM275 705h1v1h-1zM915 705h1v1h-1zM963 705h1v1h-1zM972 705h1v1h-1zM987 705h1v1h-1zM723 735h1v2h-1zM747 735h1v1h-1zM1154 735h1v2h-1zM1186 735h1v1h-1zM1202 735h1v1h-1zM1218 735h1v2h-1zM1240 735h1v1h-1zM1251 735h1v1h-1zM538 695h1v3h-1zM958 697h1v1h-1zM1150 728h1v1h-1zM1298 728h1v2h-1zM13 711h1v1h-1zM221 711h1v1h-1zM563 711h1v1h-1zM821 711h1v2h-1zM833 711h1v1h-1zM1022 711h1v1h-1zM1492 711h1v2h-1zM341 688h1v1h-1zM388 688h1v1h-1zM534 687h1v2h-1zM720 729h1v2h-1zM1151 729h1v2h-1zM1297 730h1v1h-1zM337 693h1v1h-1zM419 693h1v1h-1zM425 693h1v1h-1zM340 689h1v2h-1zM389 689h1v1h-1zM415 689h1v1h-1zM429 689h1v1h-1zM535 689h1v2h-1zM749 732h1v1h-1zM1188 732h1v1h-1zM1199 732h1v1h-1zM1220 732h1v2h-1zM1253 732h1v1h-1zM12 712h1v1h-1zM29 712h1v1h-1zM170 712h1v1h-1zM564 712h1v1h-1zM508 680h1v1h-1zM528 680h1v1h-1zM539 698h1v2h-1zM959 698h1v2h-1zM1566 699h1v1h-1zM6 717h1v1h-1zM164 717h1v1h-1zM633 717h1v1h-1zM684 717h1v1h-1zM818 717h1v1h-1zM1104 717h1v1h-1zM102 725h1v1h-1zM709 725h1v1h-1zM1115 725h1v1h-1zM1331 725h1v1h-1zM8 715h1v1h-1zM166 715h1v1h-1zM625 715h1v1h-1zM244 704h1v1h-1zM542 704h1v1h-1zM973 704h1v1h-1zM986 704h1v1h-1zM1627 704h1v1h-1zM724 737h1v2h-1zM745 737h1v1h-1zM1155 737h1v2h-1zM1185 736h1v2h-1zM1204 737h1v1h-1zM1217 737h1v1h-1zM1242 737h1v1h-1zM1249 737h1v1h-1zM744 738h1v2h-1zM1216 738h1v2h-1zM1244 739h1v1h-1zM1248 738h1v2h-1zM107 721h1v1h-1zM159 721h1v1h-1zM1109 721h1v1h-1zM1427 721h1v1h-1zM335 696h1v1h-1zM422 696h1v1h-1zM1562 696h1v1h-1zM530 682h1v2h-1zM387 687h1v1h-1zM961 702h1v1h-1zM984 702h1v1h-1zM1571 702h1v1h-1zM383 684h1v1h-1zM531 684h1v1h-1zM26 710h1v1h-1zM173 710h1v1h-1zM220 710h1v1h-1zM834 710h1v1h-1zM907 710h1v1h-1zM966 710h1v1h-1zM504 677h1v1h-1zM763 729h1v1h-1zM1371 729h1v1h-1zM722 733h1v2h-1zM748 733h1v2h-1zM1153 733h1v2h-1zM1187 733h1v2h-1zM1200 733h1v1h-1zM1252 733h1v2h-1zM1295 733h1v2h-1zM1201 734h1v1h-1zM1219 734h1v1h-1zM1239 734h1v1h-1zM507 679h1v1h-1zM527 679h1v1h-1zM421 695h1v1h-1zM423 695h1v1h-1zM1561 695h1v1h-1zM416 690h1v1h-1zM428 690h1v1h-1zM339 691h1v1h-1zM417 691h1v1h-1zM427 691h1v1h-1zM536 691h1v2h-1zM338 692h1v1h-1zM418 692h1v1h-1zM426 692h1v1h-1zM533 686h1v1h-1zM509 681h1v1h-1zM529 681h1v1h-1zM1565 698h1v1h-1zM384 685h1v1h-1zM532 685h1v1h-1zM1184 738h1v1h-1zM1205 738h1v1h-1zM1243 738h1v1h-1zM746 736h1v1h-1zM1203 736h1v1h-1zM1241 736h1v1h-1zM1250 736h1v1h-1zM503 676h1v1h-1z" fill="#1e90ff"/><path d="M1687 92h2v1h-2zM1687 158h2v1h-2zM1687 257h2v1h-2zM1687 290h2v1h-2zM1687 323h2v1h-2zM1687 356h2v1h-2zM1687 389h2v1h-2zM1687 422h2v1h-2zM1687 455h2v1h-2zM1687 488h2v1h-2zM1687 521h2v1h-2zM1687 587h2v1h-2zM1687 528h1v1h-1zM1687 665h1v1h-1zM1687 669h1v1h-1zM1687 767h1v1h-1zM6 769h1v3h-1zM70 769h1v3h-1zM134 769h1v3h-1zM198 769h1v3h-1zM262 769h1v3h-1zM326 769h1v3h-1zM390 769h1v3h-1zM454 769h1v3h-1zM518 769h1v3h-1zM582 769h1v3h-1zM646 769h1v3h-1zM710 769h1v3h-1zM774 769h1v3h-1zM838 769h1v3h-1zM902 769h1v3h-1zM966 769h1v3h-1zM1030 769h1v3h-1zM1094 769h1v3h-1zM1158 769h1v3h-1zM1222 769h1v3h-1zM1286 769h1v3h-1zM1350 769h1v3h-1zM1414 769h1v3h-1zM1478 769h1v3h-1zM1542 769h1v3h-1zM1606 769h1v3h-1z" fill="#000"/><text x="465" y="459" font-size="32" fill="#ff2000" shape-rendering="auto" style="font-family:'Liberation Sans','Noto Sans CJK SC',sans-serif;letter-spacing:0;-webkit-text-stroke:0">多空转折点<tspan x="625" font-size="34">1610</tspan></text></svg>
<svg width="30" height="50" viewBox="0 0 30 50" shape-rendering="crispEdges"><path d="M9 39h7v1h-7zM10 40h5v1h-5zM11 41h3v1h-3zM12 42h1v1h-1z" fill="#000"/></svg>
<div class="t" style="left:20.500px;top:36px">XAUUSD-,H4<span style="letter-spacing:-0.5px;word-spacing:1.1px">&nbsp; 1627.28 1630.64 1622.67 1628.25</span></div>
<div class="t" style="left:10px;top:531px">MACD(12,26,9) 23.189 24.799</div>
<div class="t" style="left:10px;top:672px">RSI(14) 67.5585</div>
<div class="t ax" style="top:88px">1683.50</div>
<div class="t ax" style="top:154px">1646.65</div>
<div class="t ax" style="top:253px">1592.20</div>
<div class="t ax" style="top:286px">1574.05</div>
<div class="t ax" style="top:319px">1555.90</div>
<div class="t ax" style="top:352px">1537.75</div>
<div class="t ax" style="top:385px">1519.05</div>
<div class="t ax" style="top:418px">1500.90</div>
<div class="t ax" style="top:451px">1482.75</div>
<div class="t ax" style="top:484px">1464.60</div>
<div class="t ax" style="top:517px">1446.45</div>
<div class="t ax2" style="top:529px">32.459</div>
<div class="t ax2" style="top:583px">0.00</div>
<div class="t ax2" style="top:654px">-41.95</div>
<div class="t ax2" style="top:670px">100</div>
<div class="t ax2" style="top:694px">70</div>
<div class="t ax2" style="top:734px">30</div>
<div class="t ax2" style="top:757px">0</div>
<div class="lb" style="top:56px;background:#ff0000">1700.00</div>
<div class="lb" style="top:119px;background:#ff0000">1665.00</div>
<div class="lb" style="top:187px;background:#000">1628.25</div>
<div class="lb" style="top:219px;background:#32cd32">1610.00</div>
<div class="lb" style="top:300px;background:#4169e1">1565.00</div>
<div class="lb" style="top:354px;background:#4169e1">1535.11</div>
<div class="t" style="left:5px;top:773px">7 Feb 2020</div>
<div class="t" style="left:69px;top:773px">10 Feb 20:00</div>
<div class="t" style="left:133px;top:773px">12 Feb 04:00</div>
<div class="t" style="left:197px;top:773px">13 Feb 12:00</div>
<div class="t" style="left:261px;top:773px">16 Feb 23:00</div>
<div class="t" style="left:325px;top:773px">18 Feb 04:00</div>
<div class="t" style="left:389px;top:773px">19 Feb 12:00</div>
<div class="t" style="left:453px;top:773px">20 Feb 20:00</div>
<div class="t" style="left:517px;top:773px">24 Feb 04:00</div>
<div class="t" style="left:581px;top:773px">25 Feb 12:00</div>
<div class="t" style="left:645px;top:773px">26 Feb 20:00</div>
<div class="t" style="left:709px;top:773px">28 Feb 04:00</div>
<div class="t" style="left:773px;top:773px">2 Mar 12:00</div>
<div class="t" style="left:837px;top:773px">3 Mar 20:00</div>
<div class="t" style="left:901px;top:773px">5 Mar 04:00</div>
<div class="t" style="left:965px;top:773px">6 Mar 12:00</div>
<div class="t" style="left:1029px;top:773px">9 Mar 20:00</div>
<div class="t" style="left:1093px;top:773px">11 Mar 04:00</div>
<div class="t" style="left:1157px;top:773px">12 Mar 12:00</div>
<div class="t" style="left:1221px;top:773px">15 Mar 23:00</div>
<div class="t" style="left:1285px;top:773px">17 Mar 04:00</div>
<div class="t" style="left:1349px;top:773px">18 Mar 12:00</div>
<div class="t" style="left:1413px;top:773px">19 Mar 20:00</div>
<div class="t" style="left:1477px;top:773px">23 Mar 04:00</div>
<div class="t" style="left:1541px;top:773px">24 Mar 12:00</div>
<div class="t" style="left:1605px;top:773px">25 Mar 20:00</div>
</body></html>
